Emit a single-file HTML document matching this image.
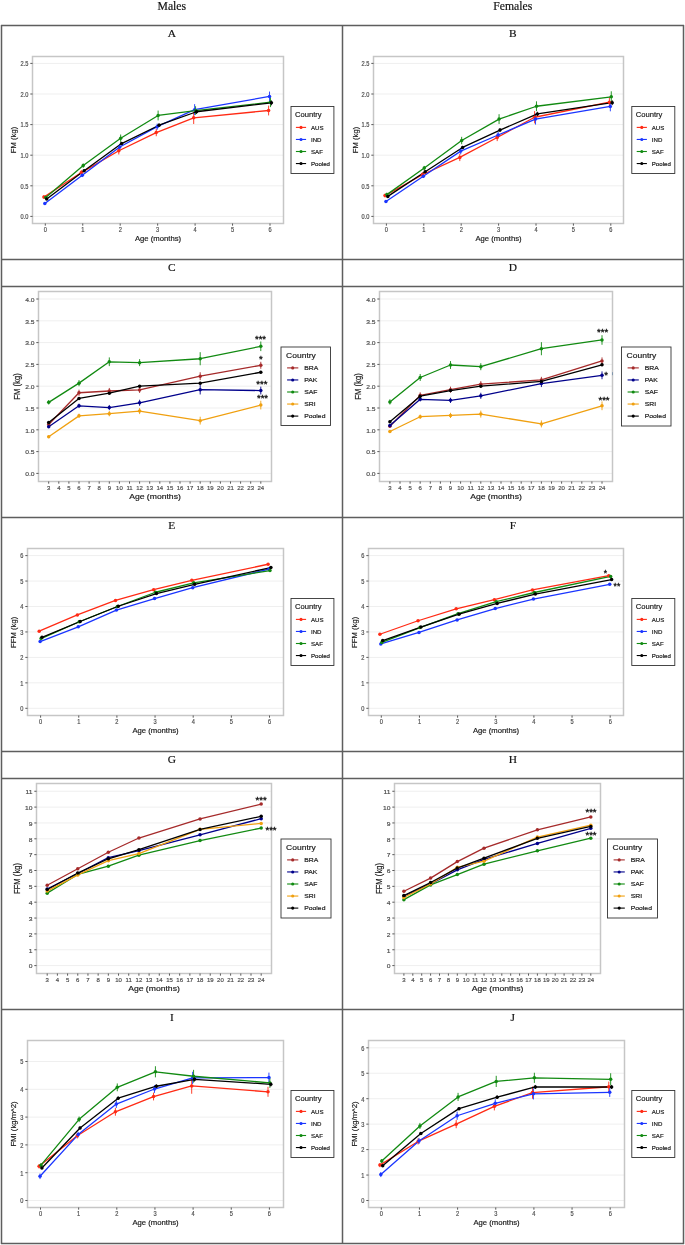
<!DOCTYPE html>
<html><head><meta charset="utf-8"><title>Figure</title>
<style>
html,body{margin:0;padding:0;background:#fff;}
body{width:685px;height:1245px;overflow:hidden;font-family:"Liberation Sans",sans-serif;}
svg{display:block;will-change:transform;}
</style></head>
<body>
<svg width="685" height="1245" viewBox="0 0 685 1245">
<g>
<rect x="0" y="0" width="685" height="1245" fill="#fff"/>
<line x1="32.5" y1="216.4" x2="283.5" y2="216.4" stroke="#efefef" stroke-width="1"/>
<line x1="32.5" y1="185.8" x2="283.5" y2="185.8" stroke="#efefef" stroke-width="1"/>
<line x1="32.5" y1="155.2" x2="283.5" y2="155.2" stroke="#efefef" stroke-width="1"/>
<line x1="32.5" y1="124.6" x2="283.5" y2="124.6" stroke="#efefef" stroke-width="1"/>
<line x1="32.5" y1="94" x2="283.5" y2="94" stroke="#efefef" stroke-width="1"/>
<line x1="32.5" y1="63.4" x2="283.5" y2="63.4" stroke="#efefef" stroke-width="1"/>
<line x1="43.9" y1="198.96" x2="43.9" y2="195.29" stroke="#ff2a14" stroke-width="0.9"/>
<line x1="81.35" y1="175.03" x2="81.35" y2="170.13" stroke="#ff2a14" stroke-width="0.9"/>
<line x1="118.8" y1="154.47" x2="118.8" y2="147.12" stroke="#ff2a14" stroke-width="0.9"/>
<line x1="156.25" y1="136.23" x2="156.25" y2="128.88" stroke="#ff2a14" stroke-width="0.9"/>
<line x1="193.7" y1="123.99" x2="193.7" y2="111.75" stroke="#ff2a14" stroke-width="0.9"/>
<line x1="268.6" y1="115.42" x2="268.6" y2="105.63" stroke="#ff2a14" stroke-width="0.9"/>
<line x1="44.83" y1="204.77" x2="44.83" y2="202.32" stroke="#1a35ff" stroke-width="0.9"/>
<line x1="82.28" y1="177.05" x2="82.28" y2="173.38" stroke="#1a35ff" stroke-width="0.9"/>
<line x1="119.73" y1="150.06" x2="119.73" y2="143.94" stroke="#1a35ff" stroke-width="0.9"/>
<line x1="157.18" y1="129.74" x2="157.18" y2="123.62" stroke="#1a35ff" stroke-width="0.9"/>
<line x1="194.63" y1="115.18" x2="194.63" y2="104.16" stroke="#1a35ff" stroke-width="0.9"/>
<line x1="269.53" y1="101.34" x2="269.53" y2="91.55" stroke="#1a35ff" stroke-width="0.9"/>
<line x1="45.77" y1="199.26" x2="45.77" y2="195.59" stroke="#118a11" stroke-width="0.9"/>
<line x1="83.22" y1="167.75" x2="83.22" y2="163.46" stroke="#118a11" stroke-width="0.9"/>
<line x1="120.67" y1="141.86" x2="120.67" y2="134.51" stroke="#118a11" stroke-width="0.9"/>
<line x1="158.12" y1="120.38" x2="158.12" y2="110.59" stroke="#118a11" stroke-width="0.9"/>
<line x1="195.57" y1="114.81" x2="195.57" y2="106.24" stroke="#118a11" stroke-width="0.9"/>
<line x1="270.47" y1="107.1" x2="270.47" y2="97.3" stroke="#118a11" stroke-width="0.9"/>
<line x1="46.7" y1="199.94" x2="46.7" y2="198.1" stroke="#000000" stroke-width="0.9"/>
<line x1="84.15" y1="172.03" x2="84.15" y2="169.58" stroke="#000000" stroke-width="0.9"/>
<line x1="121.6" y1="145.1" x2="121.6" y2="142.04" stroke="#000000" stroke-width="0.9"/>
<line x1="159.05" y1="127.05" x2="159.05" y2="123.38" stroke="#000000" stroke-width="0.9"/>
<line x1="196.5" y1="113.89" x2="196.5" y2="109.61" stroke="#000000" stroke-width="0.9"/>
<line x1="271.4" y1="105.32" x2="271.4" y2="100.43" stroke="#000000" stroke-width="0.9"/>
<polyline points="43.9,197.12 81.35,172.58 118.8,150.79 156.25,132.56 193.7,117.87 268.6,110.52" fill="none" stroke="#ff2a14" stroke-width="1.3" stroke-linejoin="round"/>
<polyline points="44.83,203.55 82.28,175.21 119.73,147 157.18,126.68 194.63,109.67 269.53,96.45" fill="none" stroke="#1a35ff" stroke-width="1.3" stroke-linejoin="round"/>
<polyline points="45.77,197.43 83.22,165.6 120.67,138.19 158.12,115.48 195.57,110.52 270.47,102.2" fill="none" stroke="#118a11" stroke-width="1.3" stroke-linejoin="round"/>
<polyline points="46.7,199.02 84.15,170.81 121.6,143.57 159.05,125.21 196.5,111.75 271.4,102.87" fill="none" stroke="#000000" stroke-width="1.3" stroke-linejoin="round"/>
<circle cx="43.9" cy="197.12" r="1.75" fill="#ff2a14"/>
<circle cx="81.35" cy="172.58" r="1.75" fill="#ff2a14"/>
<circle cx="118.8" cy="150.79" r="1.75" fill="#ff2a14"/>
<circle cx="156.25" cy="132.56" r="1.75" fill="#ff2a14"/>
<circle cx="193.7" cy="117.87" r="1.75" fill="#ff2a14"/>
<circle cx="268.6" cy="110.52" r="1.75" fill="#ff2a14"/>
<circle cx="44.83" cy="203.55" r="1.75" fill="#1a35ff"/>
<circle cx="82.28" cy="175.21" r="1.75" fill="#1a35ff"/>
<circle cx="119.73" cy="147" r="1.75" fill="#1a35ff"/>
<circle cx="157.18" cy="126.68" r="1.75" fill="#1a35ff"/>
<circle cx="194.63" cy="109.67" r="1.75" fill="#1a35ff"/>
<circle cx="269.53" cy="96.45" r="1.75" fill="#1a35ff"/>
<circle cx="45.77" cy="197.43" r="1.75" fill="#118a11"/>
<circle cx="83.22" cy="165.6" r="1.75" fill="#118a11"/>
<circle cx="120.67" cy="138.19" r="1.75" fill="#118a11"/>
<circle cx="158.12" cy="115.48" r="1.75" fill="#118a11"/>
<circle cx="195.57" cy="110.52" r="1.75" fill="#118a11"/>
<circle cx="270.47" cy="102.2" r="1.75" fill="#118a11"/>
<circle cx="46.7" cy="199.02" r="1.75" fill="#000000"/>
<circle cx="84.15" cy="170.81" r="1.75" fill="#000000"/>
<circle cx="121.6" cy="143.57" r="1.75" fill="#000000"/>
<circle cx="159.05" cy="125.21" r="1.75" fill="#000000"/>
<circle cx="196.5" cy="111.75" r="1.75" fill="#000000"/>
<circle cx="271.4" cy="102.87" r="1.75" fill="#000000"/>
<rect x="32.5" y="56.5" width="251" height="167" fill="none" stroke="#c6c6c6" stroke-width="1.5"/>
<line x1="30.3" y1="216.4" x2="32.5" y2="216.4" stroke="#333" stroke-width="0.8"/>
<text transform="translate(28.5,219.2) scale(0.86,1)" font-size="6.6" text-anchor="end" fill="#4d4d4d" font-family='"Liberation Sans", sans-serif' stroke="#4d4d4d" stroke-width="0.18">0.0</text>
<line x1="30.3" y1="185.8" x2="32.5" y2="185.8" stroke="#333" stroke-width="0.8"/>
<text transform="translate(28.5,188.6) scale(0.86,1)" font-size="6.6" text-anchor="end" fill="#4d4d4d" font-family='"Liberation Sans", sans-serif' stroke="#4d4d4d" stroke-width="0.18">0.5</text>
<line x1="30.3" y1="155.2" x2="32.5" y2="155.2" stroke="#333" stroke-width="0.8"/>
<text transform="translate(28.5,158) scale(0.86,1)" font-size="6.6" text-anchor="end" fill="#4d4d4d" font-family='"Liberation Sans", sans-serif' stroke="#4d4d4d" stroke-width="0.18">1.0</text>
<line x1="30.3" y1="124.6" x2="32.5" y2="124.6" stroke="#333" stroke-width="0.8"/>
<text transform="translate(28.5,127.4) scale(0.86,1)" font-size="6.6" text-anchor="end" fill="#4d4d4d" font-family='"Liberation Sans", sans-serif' stroke="#4d4d4d" stroke-width="0.18">1.5</text>
<line x1="30.3" y1="94" x2="32.5" y2="94" stroke="#333" stroke-width="0.8"/>
<text transform="translate(28.5,96.8) scale(0.86,1)" font-size="6.6" text-anchor="end" fill="#4d4d4d" font-family='"Liberation Sans", sans-serif' stroke="#4d4d4d" stroke-width="0.18">2.0</text>
<line x1="30.3" y1="63.4" x2="32.5" y2="63.4" stroke="#333" stroke-width="0.8"/>
<text transform="translate(28.5,66.2) scale(0.86,1)" font-size="6.6" text-anchor="end" fill="#4d4d4d" font-family='"Liberation Sans", sans-serif' stroke="#4d4d4d" stroke-width="0.18">2.5</text>
<line x1="45.3" y1="223.5" x2="45.3" y2="225.7" stroke="#333" stroke-width="0.8"/>
<text transform="translate(45.3,231.8) scale(0.86,1)" font-size="6.6" text-anchor="middle" fill="#4d4d4d" font-family='"Liberation Sans", sans-serif' stroke="#4d4d4d" stroke-width="0.18">0</text>
<line x1="82.75" y1="223.5" x2="82.75" y2="225.7" stroke="#333" stroke-width="0.8"/>
<text transform="translate(82.75,231.8) scale(0.86,1)" font-size="6.6" text-anchor="middle" fill="#4d4d4d" font-family='"Liberation Sans", sans-serif' stroke="#4d4d4d" stroke-width="0.18">1</text>
<line x1="120.2" y1="223.5" x2="120.2" y2="225.7" stroke="#333" stroke-width="0.8"/>
<text transform="translate(120.2,231.8) scale(0.86,1)" font-size="6.6" text-anchor="middle" fill="#4d4d4d" font-family='"Liberation Sans", sans-serif' stroke="#4d4d4d" stroke-width="0.18">2</text>
<line x1="157.65" y1="223.5" x2="157.65" y2="225.7" stroke="#333" stroke-width="0.8"/>
<text transform="translate(157.65,231.8) scale(0.86,1)" font-size="6.6" text-anchor="middle" fill="#4d4d4d" font-family='"Liberation Sans", sans-serif' stroke="#4d4d4d" stroke-width="0.18">3</text>
<line x1="195.1" y1="223.5" x2="195.1" y2="225.7" stroke="#333" stroke-width="0.8"/>
<text transform="translate(195.1,231.8) scale(0.86,1)" font-size="6.6" text-anchor="middle" fill="#4d4d4d" font-family='"Liberation Sans", sans-serif' stroke="#4d4d4d" stroke-width="0.18">4</text>
<line x1="232.55" y1="223.5" x2="232.55" y2="225.7" stroke="#333" stroke-width="0.8"/>
<text transform="translate(232.55,231.8) scale(0.86,1)" font-size="6.6" text-anchor="middle" fill="#4d4d4d" font-family='"Liberation Sans", sans-serif' stroke="#4d4d4d" stroke-width="0.18">5</text>
<line x1="270" y1="223.5" x2="270" y2="225.7" stroke="#333" stroke-width="0.8"/>
<text transform="translate(270,231.8) scale(0.86,1)" font-size="6.6" text-anchor="middle" fill="#4d4d4d" font-family='"Liberation Sans", sans-serif' stroke="#4d4d4d" stroke-width="0.18">6</text>
<text transform="translate(158,240.6)" font-size="7.7" text-anchor="middle" fill="#1a1a1a" font-family='"Liberation Sans", sans-serif' stroke="#1a1a1a" stroke-width="0.18">Age (months)</text>
<text transform="translate(16.4,140) rotate(-90)" font-size="7.7" text-anchor="middle" fill="#1a1a1a" font-family='"Liberation Sans", sans-serif' stroke="#1a1a1a" stroke-width="0.18">FM (kg)</text>
<rect x="291" y="106.5" width="42.9" height="67" fill="#fff" stroke="#333" stroke-width="0.9"/>
<text transform="translate(295,117.2)" font-size="7.6" text-anchor="start" fill="#1a1a1a" font-family='"Liberation Sans", sans-serif' stroke="#1a1a1a" stroke-width="0.18">Country</text>
<line x1="295.9" y1="127.4" x2="306.1" y2="127.4" stroke="#ff2a14" stroke-width="1.1"/>
<circle cx="301" cy="127.4" r="1.55" fill="#ff2a14"/>
<text transform="translate(311,129.55)" font-size="6.1" text-anchor="start" fill="#1a1a1a" font-family='"Liberation Sans", sans-serif' stroke="#1a1a1a" stroke-width="0.18">AUS</text>
<line x1="295.9" y1="139.45" x2="306.1" y2="139.45" stroke="#1a35ff" stroke-width="1.1"/>
<circle cx="301" cy="139.45" r="1.55" fill="#1a35ff"/>
<text transform="translate(311,141.6)" font-size="6.1" text-anchor="start" fill="#1a1a1a" font-family='"Liberation Sans", sans-serif' stroke="#1a1a1a" stroke-width="0.18">IND</text>
<line x1="295.9" y1="151.5" x2="306.1" y2="151.5" stroke="#118a11" stroke-width="1.1"/>
<circle cx="301" cy="151.5" r="1.55" fill="#118a11"/>
<text transform="translate(311,153.65)" font-size="6.1" text-anchor="start" fill="#1a1a1a" font-family='"Liberation Sans", sans-serif' stroke="#1a1a1a" stroke-width="0.18">SAF</text>
<line x1="295.9" y1="163.55" x2="306.1" y2="163.55" stroke="#000000" stroke-width="1.1"/>
<circle cx="301" cy="163.55" r="1.55" fill="#000000"/>
<text transform="translate(311,165.7)" font-size="6.1" text-anchor="start" fill="#1a1a1a" font-family='"Liberation Sans", sans-serif' stroke="#1a1a1a" stroke-width="0.18">Pooled</text>
<line x1="373.5" y1="216.4" x2="623.5" y2="216.4" stroke="#efefef" stroke-width="1"/>
<line x1="373.5" y1="185.8" x2="623.5" y2="185.8" stroke="#efefef" stroke-width="1"/>
<line x1="373.5" y1="155.2" x2="623.5" y2="155.2" stroke="#efefef" stroke-width="1"/>
<line x1="373.5" y1="124.6" x2="623.5" y2="124.6" stroke="#efefef" stroke-width="1"/>
<line x1="373.5" y1="94" x2="623.5" y2="94" stroke="#efefef" stroke-width="1"/>
<line x1="373.5" y1="63.4" x2="623.5" y2="63.4" stroke="#efefef" stroke-width="1"/>
<line x1="385" y1="197.43" x2="385" y2="193.76" stroke="#ff2a14" stroke-width="0.9"/>
<line x1="422.4" y1="177.23" x2="422.4" y2="172.34" stroke="#ff2a14" stroke-width="0.9"/>
<line x1="459.8" y1="161.08" x2="459.8" y2="153.73" stroke="#ff2a14" stroke-width="0.9"/>
<line x1="497.2" y1="141.12" x2="497.2" y2="133.78" stroke="#ff2a14" stroke-width="0.9"/>
<line x1="534.6" y1="123.38" x2="534.6" y2="111.14" stroke="#ff2a14" stroke-width="0.9"/>
<line x1="609.4" y1="107.1" x2="609.4" y2="97.3" stroke="#ff2a14" stroke-width="0.9"/>
<line x1="385.93" y1="202.75" x2="385.93" y2="200.3" stroke="#1a35ff" stroke-width="0.9"/>
<line x1="423.33" y1="178.03" x2="423.33" y2="174.36" stroke="#1a35ff" stroke-width="0.9"/>
<line x1="460.73" y1="154.16" x2="460.73" y2="148.04" stroke="#1a35ff" stroke-width="0.9"/>
<line x1="498.13" y1="138.06" x2="498.13" y2="131.94" stroke="#1a35ff" stroke-width="0.9"/>
<line x1="535.53" y1="124.6" x2="535.53" y2="113.58" stroke="#1a35ff" stroke-width="0.9"/>
<line x1="610.33" y1="111.32" x2="610.33" y2="101.53" stroke="#1a35ff" stroke-width="0.9"/>
<line x1="386.87" y1="196.45" x2="386.87" y2="192.78" stroke="#118a11" stroke-width="0.9"/>
<line x1="424.27" y1="170.19" x2="424.27" y2="165.91" stroke="#118a11" stroke-width="0.9"/>
<line x1="461.67" y1="144.18" x2="461.67" y2="136.84" stroke="#118a11" stroke-width="0.9"/>
<line x1="499.07" y1="123.99" x2="499.07" y2="114.2" stroke="#118a11" stroke-width="0.9"/>
<line x1="536.47" y1="111.14" x2="536.47" y2="101.34" stroke="#118a11" stroke-width="0.9"/>
<line x1="611.27" y1="102.32" x2="611.27" y2="91.31" stroke="#118a11" stroke-width="0.9"/>
<line x1="387.8" y1="197.31" x2="387.8" y2="195.47" stroke="#000000" stroke-width="0.9"/>
<line x1="425.2" y1="172.95" x2="425.2" y2="170.5" stroke="#000000" stroke-width="0.9"/>
<line x1="462.6" y1="148.96" x2="462.6" y2="145.9" stroke="#000000" stroke-width="0.9"/>
<line x1="500" y1="131.94" x2="500" y2="128.27" stroke="#000000" stroke-width="0.9"/>
<line x1="537.4" y1="116.03" x2="537.4" y2="111.75" stroke="#000000" stroke-width="0.9"/>
<line x1="612.2" y1="105.14" x2="612.2" y2="100.24" stroke="#000000" stroke-width="0.9"/>
<polyline points="385,195.59 422.4,174.78 459.8,157.4 497.2,137.45 534.6,117.26 609.4,102.2" fill="none" stroke="#ff2a14" stroke-width="1.3" stroke-linejoin="round"/>
<polyline points="385.93,201.53 423.33,176.19 460.73,151.1 498.13,135 535.53,119.09 610.33,106.42" fill="none" stroke="#1a35ff" stroke-width="1.3" stroke-linejoin="round"/>
<polyline points="386.87,194.61 424.27,168.05 461.67,140.51 499.07,119.09 536.47,106.24 611.27,96.82" fill="none" stroke="#118a11" stroke-width="1.3" stroke-linejoin="round"/>
<polyline points="387.8,196.39 425.2,171.72 462.6,147.43 500,130.11 537.4,113.89 612.2,102.69" fill="none" stroke="#000000" stroke-width="1.3" stroke-linejoin="round"/>
<circle cx="385" cy="195.59" r="1.75" fill="#ff2a14"/>
<circle cx="422.4" cy="174.78" r="1.75" fill="#ff2a14"/>
<circle cx="459.8" cy="157.4" r="1.75" fill="#ff2a14"/>
<circle cx="497.2" cy="137.45" r="1.75" fill="#ff2a14"/>
<circle cx="534.6" cy="117.26" r="1.75" fill="#ff2a14"/>
<circle cx="609.4" cy="102.2" r="1.75" fill="#ff2a14"/>
<circle cx="385.93" cy="201.53" r="1.75" fill="#1a35ff"/>
<circle cx="423.33" cy="176.19" r="1.75" fill="#1a35ff"/>
<circle cx="460.73" cy="151.1" r="1.75" fill="#1a35ff"/>
<circle cx="498.13" cy="135" r="1.75" fill="#1a35ff"/>
<circle cx="535.53" cy="119.09" r="1.75" fill="#1a35ff"/>
<circle cx="610.33" cy="106.42" r="1.75" fill="#1a35ff"/>
<circle cx="386.87" cy="194.61" r="1.75" fill="#118a11"/>
<circle cx="424.27" cy="168.05" r="1.75" fill="#118a11"/>
<circle cx="461.67" cy="140.51" r="1.75" fill="#118a11"/>
<circle cx="499.07" cy="119.09" r="1.75" fill="#118a11"/>
<circle cx="536.47" cy="106.24" r="1.75" fill="#118a11"/>
<circle cx="611.27" cy="96.82" r="1.75" fill="#118a11"/>
<circle cx="387.8" cy="196.39" r="1.75" fill="#000000"/>
<circle cx="425.2" cy="171.72" r="1.75" fill="#000000"/>
<circle cx="462.6" cy="147.43" r="1.75" fill="#000000"/>
<circle cx="500" cy="130.11" r="1.75" fill="#000000"/>
<circle cx="537.4" cy="113.89" r="1.75" fill="#000000"/>
<circle cx="612.2" cy="102.69" r="1.75" fill="#000000"/>
<rect x="373.5" y="56.5" width="250" height="167" fill="none" stroke="#c6c6c6" stroke-width="1.5"/>
<line x1="371.3" y1="216.4" x2="373.5" y2="216.4" stroke="#333" stroke-width="0.8"/>
<text transform="translate(369.5,219.2) scale(0.86,1)" font-size="6.6" text-anchor="end" fill="#4d4d4d" font-family='"Liberation Sans", sans-serif' stroke="#4d4d4d" stroke-width="0.18">0.0</text>
<line x1="371.3" y1="185.8" x2="373.5" y2="185.8" stroke="#333" stroke-width="0.8"/>
<text transform="translate(369.5,188.6) scale(0.86,1)" font-size="6.6" text-anchor="end" fill="#4d4d4d" font-family='"Liberation Sans", sans-serif' stroke="#4d4d4d" stroke-width="0.18">0.5</text>
<line x1="371.3" y1="155.2" x2="373.5" y2="155.2" stroke="#333" stroke-width="0.8"/>
<text transform="translate(369.5,158) scale(0.86,1)" font-size="6.6" text-anchor="end" fill="#4d4d4d" font-family='"Liberation Sans", sans-serif' stroke="#4d4d4d" stroke-width="0.18">1.0</text>
<line x1="371.3" y1="124.6" x2="373.5" y2="124.6" stroke="#333" stroke-width="0.8"/>
<text transform="translate(369.5,127.4) scale(0.86,1)" font-size="6.6" text-anchor="end" fill="#4d4d4d" font-family='"Liberation Sans", sans-serif' stroke="#4d4d4d" stroke-width="0.18">1.5</text>
<line x1="371.3" y1="94" x2="373.5" y2="94" stroke="#333" stroke-width="0.8"/>
<text transform="translate(369.5,96.8) scale(0.86,1)" font-size="6.6" text-anchor="end" fill="#4d4d4d" font-family='"Liberation Sans", sans-serif' stroke="#4d4d4d" stroke-width="0.18">2.0</text>
<line x1="371.3" y1="63.4" x2="373.5" y2="63.4" stroke="#333" stroke-width="0.8"/>
<text transform="translate(369.5,66.2) scale(0.86,1)" font-size="6.6" text-anchor="end" fill="#4d4d4d" font-family='"Liberation Sans", sans-serif' stroke="#4d4d4d" stroke-width="0.18">2.5</text>
<line x1="386.4" y1="223.5" x2="386.4" y2="225.7" stroke="#333" stroke-width="0.8"/>
<text transform="translate(386.4,231.8) scale(0.86,1)" font-size="6.6" text-anchor="middle" fill="#4d4d4d" font-family='"Liberation Sans", sans-serif' stroke="#4d4d4d" stroke-width="0.18">0</text>
<line x1="423.8" y1="223.5" x2="423.8" y2="225.7" stroke="#333" stroke-width="0.8"/>
<text transform="translate(423.8,231.8) scale(0.86,1)" font-size="6.6" text-anchor="middle" fill="#4d4d4d" font-family='"Liberation Sans", sans-serif' stroke="#4d4d4d" stroke-width="0.18">1</text>
<line x1="461.2" y1="223.5" x2="461.2" y2="225.7" stroke="#333" stroke-width="0.8"/>
<text transform="translate(461.2,231.8) scale(0.86,1)" font-size="6.6" text-anchor="middle" fill="#4d4d4d" font-family='"Liberation Sans", sans-serif' stroke="#4d4d4d" stroke-width="0.18">2</text>
<line x1="498.6" y1="223.5" x2="498.6" y2="225.7" stroke="#333" stroke-width="0.8"/>
<text transform="translate(498.6,231.8) scale(0.86,1)" font-size="6.6" text-anchor="middle" fill="#4d4d4d" font-family='"Liberation Sans", sans-serif' stroke="#4d4d4d" stroke-width="0.18">3</text>
<line x1="536" y1="223.5" x2="536" y2="225.7" stroke="#333" stroke-width="0.8"/>
<text transform="translate(536,231.8) scale(0.86,1)" font-size="6.6" text-anchor="middle" fill="#4d4d4d" font-family='"Liberation Sans", sans-serif' stroke="#4d4d4d" stroke-width="0.18">4</text>
<line x1="573.4" y1="223.5" x2="573.4" y2="225.7" stroke="#333" stroke-width="0.8"/>
<text transform="translate(573.4,231.8) scale(0.86,1)" font-size="6.6" text-anchor="middle" fill="#4d4d4d" font-family='"Liberation Sans", sans-serif' stroke="#4d4d4d" stroke-width="0.18">5</text>
<line x1="610.8" y1="223.5" x2="610.8" y2="225.7" stroke="#333" stroke-width="0.8"/>
<text transform="translate(610.8,231.8) scale(0.86,1)" font-size="6.6" text-anchor="middle" fill="#4d4d4d" font-family='"Liberation Sans", sans-serif' stroke="#4d4d4d" stroke-width="0.18">6</text>
<text transform="translate(498.5,240.6)" font-size="7.7" text-anchor="middle" fill="#1a1a1a" font-family='"Liberation Sans", sans-serif' stroke="#1a1a1a" stroke-width="0.18">Age (months)</text>
<text transform="translate(357.6,140) rotate(-90)" font-size="7.7" text-anchor="middle" fill="#1a1a1a" font-family='"Liberation Sans", sans-serif' stroke="#1a1a1a" stroke-width="0.18">FM (kg)</text>
<rect x="631.8" y="106.5" width="43" height="67" fill="#fff" stroke="#333" stroke-width="0.9"/>
<text transform="translate(635.8,117.2)" font-size="7.6" text-anchor="start" fill="#1a1a1a" font-family='"Liberation Sans", sans-serif' stroke="#1a1a1a" stroke-width="0.18">Country</text>
<line x1="636.7" y1="127.4" x2="646.9" y2="127.4" stroke="#ff2a14" stroke-width="1.1"/>
<circle cx="641.8" cy="127.4" r="1.55" fill="#ff2a14"/>
<text transform="translate(651.8,129.55)" font-size="6.1" text-anchor="start" fill="#1a1a1a" font-family='"Liberation Sans", sans-serif' stroke="#1a1a1a" stroke-width="0.18">AUS</text>
<line x1="636.7" y1="139.45" x2="646.9" y2="139.45" stroke="#1a35ff" stroke-width="1.1"/>
<circle cx="641.8" cy="139.45" r="1.55" fill="#1a35ff"/>
<text transform="translate(651.8,141.6)" font-size="6.1" text-anchor="start" fill="#1a1a1a" font-family='"Liberation Sans", sans-serif' stroke="#1a1a1a" stroke-width="0.18">IND</text>
<line x1="636.7" y1="151.5" x2="646.9" y2="151.5" stroke="#118a11" stroke-width="1.1"/>
<circle cx="641.8" cy="151.5" r="1.55" fill="#118a11"/>
<text transform="translate(651.8,153.65)" font-size="6.1" text-anchor="start" fill="#1a1a1a" font-family='"Liberation Sans", sans-serif' stroke="#1a1a1a" stroke-width="0.18">SAF</text>
<line x1="636.7" y1="163.55" x2="646.9" y2="163.55" stroke="#000000" stroke-width="1.1"/>
<circle cx="641.8" cy="163.55" r="1.55" fill="#000000"/>
<text transform="translate(651.8,165.7)" font-size="6.1" text-anchor="start" fill="#1a1a1a" font-family='"Liberation Sans", sans-serif' stroke="#1a1a1a" stroke-width="0.18">Pooled</text>
<line x1="38.5" y1="473.4" x2="271.5" y2="473.4" stroke="#efefef" stroke-width="1"/>
<line x1="38.5" y1="451.6" x2="271.5" y2="451.6" stroke="#efefef" stroke-width="1"/>
<line x1="38.5" y1="429.8" x2="271.5" y2="429.8" stroke="#efefef" stroke-width="1"/>
<line x1="38.5" y1="408" x2="271.5" y2="408" stroke="#efefef" stroke-width="1"/>
<line x1="38.5" y1="386.2" x2="271.5" y2="386.2" stroke="#efefef" stroke-width="1"/>
<line x1="38.5" y1="364.4" x2="271.5" y2="364.4" stroke="#efefef" stroke-width="1"/>
<line x1="38.5" y1="342.6" x2="271.5" y2="342.6" stroke="#efefef" stroke-width="1"/>
<line x1="38.5" y1="320.8" x2="271.5" y2="320.8" stroke="#efefef" stroke-width="1"/>
<line x1="38.5" y1="299" x2="271.5" y2="299" stroke="#efefef" stroke-width="1"/>
<line x1="48.7" y1="425.88" x2="48.7" y2="423.26" stroke="#a52a2a" stroke-width="0.9"/>
<line x1="79" y1="395.79" x2="79" y2="389.69" stroke="#a52a2a" stroke-width="0.9"/>
<line x1="109.3" y1="394.05" x2="109.3" y2="387.94" stroke="#a52a2a" stroke-width="0.9"/>
<line x1="139.6" y1="392.96" x2="139.6" y2="386.85" stroke="#a52a2a" stroke-width="0.9"/>
<line x1="200.2" y1="380.1" x2="200.2" y2="372.25" stroke="#a52a2a" stroke-width="0.9"/>
<line x1="260.8" y1="368.76" x2="260.8" y2="361.78" stroke="#a52a2a" stroke-width="0.9"/>
<line x1="48.7" y1="428.06" x2="48.7" y2="425.44" stroke="#00008b" stroke-width="0.9"/>
<line x1="79" y1="408" x2="79" y2="403.64" stroke="#00008b" stroke-width="0.9"/>
<line x1="109.3" y1="410.18" x2="109.3" y2="404.95" stroke="#00008b" stroke-width="0.9"/>
<line x1="139.6" y1="405.82" x2="139.6" y2="399.72" stroke="#00008b" stroke-width="0.9"/>
<line x1="200.2" y1="394.48" x2="200.2" y2="384.89" stroke="#00008b" stroke-width="0.9"/>
<line x1="260.8" y1="394.48" x2="260.8" y2="386.64" stroke="#00008b" stroke-width="0.9"/>
<line x1="48.7" y1="404.51" x2="48.7" y2="400.15" stroke="#118a11" stroke-width="0.9"/>
<line x1="79" y1="386.2" x2="79" y2="380.1" stroke="#118a11" stroke-width="0.9"/>
<line x1="109.3" y1="366.14" x2="109.3" y2="357.42" stroke="#118a11" stroke-width="0.9"/>
<line x1="139.6" y1="366.14" x2="139.6" y2="359.17" stroke="#118a11" stroke-width="0.9"/>
<line x1="200.2" y1="365.27" x2="200.2" y2="352.19" stroke="#118a11" stroke-width="0.9"/>
<line x1="260.8" y1="351.1" x2="260.8" y2="341.51" stroke="#118a11" stroke-width="0.9"/>
<line x1="48.7" y1="438.08" x2="48.7" y2="435.47" stroke="#f0a010" stroke-width="0.9"/>
<line x1="79" y1="418.03" x2="79" y2="413.67" stroke="#f0a010" stroke-width="0.9"/>
<line x1="109.3" y1="416.28" x2="109.3" y2="411.05" stroke="#f0a010" stroke-width="0.9"/>
<line x1="139.6" y1="414.1" x2="139.6" y2="408" stroke="#f0a010" stroke-width="0.9"/>
<line x1="200.2" y1="424.57" x2="200.2" y2="416.72" stroke="#f0a010" stroke-width="0.9"/>
<line x1="260.8" y1="409.44" x2="260.8" y2="400.72" stroke="#f0a010" stroke-width="0.9"/>
<line x1="48.7" y1="423.26" x2="48.7" y2="421.52" stroke="#000000" stroke-width="0.9"/>
<line x1="79" y1="399.28" x2="79" y2="397.54" stroke="#000000" stroke-width="0.9"/>
<line x1="109.3" y1="394.05" x2="109.3" y2="392.3" stroke="#000000" stroke-width="0.9"/>
<line x1="139.6" y1="387.07" x2="139.6" y2="385.33" stroke="#000000" stroke-width="0.9"/>
<line x1="200.2" y1="384.46" x2="200.2" y2="381.84" stroke="#000000" stroke-width="0.9"/>
<line x1="260.8" y1="373.56" x2="260.8" y2="370.94" stroke="#000000" stroke-width="0.9"/>
<polyline points="48.7,424.57 79,392.74 109.3,391 139.6,389.91 200.2,376.17 260.8,365.27" fill="none" stroke="#a52a2a" stroke-width="1.3" stroke-linejoin="round"/>
<polyline points="48.7,426.75 79,405.82 109.3,407.56 139.6,402.77 200.2,389.69 260.8,390.56" fill="none" stroke="#00008b" stroke-width="1.3" stroke-linejoin="round"/>
<polyline points="48.7,402.33 79,383.15 109.3,361.78 139.6,362.66 200.2,358.73 260.8,346.31" fill="none" stroke="#118a11" stroke-width="1.3" stroke-linejoin="round"/>
<polyline points="48.7,436.78 79,415.85 109.3,413.67 139.6,411.05 200.2,420.64 260.8,405.08" fill="none" stroke="#f0a010" stroke-width="1.3" stroke-linejoin="round"/>
<polyline points="48.7,422.39 79,398.41 109.3,393.18 139.6,386.2 200.2,383.15 260.8,372.25" fill="none" stroke="#000000" stroke-width="1.3" stroke-linejoin="round"/>
<circle cx="48.7" cy="424.57" r="1.75" fill="#a52a2a"/>
<circle cx="79" cy="392.74" r="1.75" fill="#a52a2a"/>
<circle cx="109.3" cy="391" r="1.75" fill="#a52a2a"/>
<circle cx="139.6" cy="389.91" r="1.75" fill="#a52a2a"/>
<circle cx="200.2" cy="376.17" r="1.75" fill="#a52a2a"/>
<circle cx="260.8" cy="365.27" r="1.75" fill="#a52a2a"/>
<circle cx="48.7" cy="426.75" r="1.75" fill="#00008b"/>
<circle cx="79" cy="405.82" r="1.75" fill="#00008b"/>
<circle cx="109.3" cy="407.56" r="1.75" fill="#00008b"/>
<circle cx="139.6" cy="402.77" r="1.75" fill="#00008b"/>
<circle cx="200.2" cy="389.69" r="1.75" fill="#00008b"/>
<circle cx="260.8" cy="390.56" r="1.75" fill="#00008b"/>
<circle cx="48.7" cy="402.33" r="1.75" fill="#118a11"/>
<circle cx="79" cy="383.15" r="1.75" fill="#118a11"/>
<circle cx="109.3" cy="361.78" r="1.75" fill="#118a11"/>
<circle cx="139.6" cy="362.66" r="1.75" fill="#118a11"/>
<circle cx="200.2" cy="358.73" r="1.75" fill="#118a11"/>
<circle cx="260.8" cy="346.31" r="1.75" fill="#118a11"/>
<circle cx="48.7" cy="436.78" r="1.75" fill="#f0a010"/>
<circle cx="79" cy="415.85" r="1.75" fill="#f0a010"/>
<circle cx="109.3" cy="413.67" r="1.75" fill="#f0a010"/>
<circle cx="139.6" cy="411.05" r="1.75" fill="#f0a010"/>
<circle cx="200.2" cy="420.64" r="1.75" fill="#f0a010"/>
<circle cx="260.8" cy="405.08" r="1.75" fill="#f0a010"/>
<circle cx="48.7" cy="422.39" r="1.75" fill="#000000"/>
<circle cx="79" cy="398.41" r="1.75" fill="#000000"/>
<circle cx="109.3" cy="393.18" r="1.75" fill="#000000"/>
<circle cx="139.6" cy="386.2" r="1.75" fill="#000000"/>
<circle cx="200.2" cy="383.15" r="1.75" fill="#000000"/>
<circle cx="260.8" cy="372.25" r="1.75" fill="#000000"/>
<rect x="38.5" y="291.5" width="233" height="190" fill="none" stroke="#c6c6c6" stroke-width="1.5"/>
<line x1="36.3" y1="473.4" x2="38.5" y2="473.4" stroke="#333" stroke-width="0.8"/>
<text transform="translate(34.5,476.2) scale(1.1,1)" font-size="6.1" text-anchor="end" fill="#4d4d4d" font-family='"Liberation Sans", sans-serif' stroke="#4d4d4d" stroke-width="0.18">0.0</text>
<line x1="36.3" y1="451.6" x2="38.5" y2="451.6" stroke="#333" stroke-width="0.8"/>
<text transform="translate(34.5,454.4) scale(1.1,1)" font-size="6.1" text-anchor="end" fill="#4d4d4d" font-family='"Liberation Sans", sans-serif' stroke="#4d4d4d" stroke-width="0.18">0.5</text>
<line x1="36.3" y1="429.8" x2="38.5" y2="429.8" stroke="#333" stroke-width="0.8"/>
<text transform="translate(34.5,432.6) scale(1.1,1)" font-size="6.1" text-anchor="end" fill="#4d4d4d" font-family='"Liberation Sans", sans-serif' stroke="#4d4d4d" stroke-width="0.18">1.0</text>
<line x1="36.3" y1="408" x2="38.5" y2="408" stroke="#333" stroke-width="0.8"/>
<text transform="translate(34.5,410.8) scale(1.1,1)" font-size="6.1" text-anchor="end" fill="#4d4d4d" font-family='"Liberation Sans", sans-serif' stroke="#4d4d4d" stroke-width="0.18">1.5</text>
<line x1="36.3" y1="386.2" x2="38.5" y2="386.2" stroke="#333" stroke-width="0.8"/>
<text transform="translate(34.5,389) scale(1.1,1)" font-size="6.1" text-anchor="end" fill="#4d4d4d" font-family='"Liberation Sans", sans-serif' stroke="#4d4d4d" stroke-width="0.18">2.0</text>
<line x1="36.3" y1="364.4" x2="38.5" y2="364.4" stroke="#333" stroke-width="0.8"/>
<text transform="translate(34.5,367.2) scale(1.1,1)" font-size="6.1" text-anchor="end" fill="#4d4d4d" font-family='"Liberation Sans", sans-serif' stroke="#4d4d4d" stroke-width="0.18">2.5</text>
<line x1="36.3" y1="342.6" x2="38.5" y2="342.6" stroke="#333" stroke-width="0.8"/>
<text transform="translate(34.5,345.4) scale(1.1,1)" font-size="6.1" text-anchor="end" fill="#4d4d4d" font-family='"Liberation Sans", sans-serif' stroke="#4d4d4d" stroke-width="0.18">3.0</text>
<line x1="36.3" y1="320.8" x2="38.5" y2="320.8" stroke="#333" stroke-width="0.8"/>
<text transform="translate(34.5,323.6) scale(1.1,1)" font-size="6.1" text-anchor="end" fill="#4d4d4d" font-family='"Liberation Sans", sans-serif' stroke="#4d4d4d" stroke-width="0.18">3.5</text>
<line x1="36.3" y1="299" x2="38.5" y2="299" stroke="#333" stroke-width="0.8"/>
<text transform="translate(34.5,301.8) scale(1.1,1)" font-size="6.1" text-anchor="end" fill="#4d4d4d" font-family='"Liberation Sans", sans-serif' stroke="#4d4d4d" stroke-width="0.18">4.0</text>
<line x1="48.7" y1="481.5" x2="48.7" y2="483.7" stroke="#333" stroke-width="0.8"/>
<text transform="translate(48.7,489.8)" font-size="6" text-anchor="middle" fill="#4d4d4d" font-family='"Liberation Sans", sans-serif' stroke="#4d4d4d" stroke-width="0.18">3</text>
<line x1="58.8" y1="481.5" x2="58.8" y2="483.7" stroke="#333" stroke-width="0.8"/>
<text transform="translate(58.8,489.8)" font-size="6" text-anchor="middle" fill="#4d4d4d" font-family='"Liberation Sans", sans-serif' stroke="#4d4d4d" stroke-width="0.18">4</text>
<line x1="68.9" y1="481.5" x2="68.9" y2="483.7" stroke="#333" stroke-width="0.8"/>
<text transform="translate(68.9,489.8)" font-size="6" text-anchor="middle" fill="#4d4d4d" font-family='"Liberation Sans", sans-serif' stroke="#4d4d4d" stroke-width="0.18">5</text>
<line x1="79" y1="481.5" x2="79" y2="483.7" stroke="#333" stroke-width="0.8"/>
<text transform="translate(79,489.8)" font-size="6" text-anchor="middle" fill="#4d4d4d" font-family='"Liberation Sans", sans-serif' stroke="#4d4d4d" stroke-width="0.18">6</text>
<line x1="89.1" y1="481.5" x2="89.1" y2="483.7" stroke="#333" stroke-width="0.8"/>
<text transform="translate(89.1,489.8)" font-size="6" text-anchor="middle" fill="#4d4d4d" font-family='"Liberation Sans", sans-serif' stroke="#4d4d4d" stroke-width="0.18">7</text>
<line x1="99.2" y1="481.5" x2="99.2" y2="483.7" stroke="#333" stroke-width="0.8"/>
<text transform="translate(99.2,489.8)" font-size="6" text-anchor="middle" fill="#4d4d4d" font-family='"Liberation Sans", sans-serif' stroke="#4d4d4d" stroke-width="0.18">8</text>
<line x1="109.3" y1="481.5" x2="109.3" y2="483.7" stroke="#333" stroke-width="0.8"/>
<text transform="translate(109.3,489.8)" font-size="6" text-anchor="middle" fill="#4d4d4d" font-family='"Liberation Sans", sans-serif' stroke="#4d4d4d" stroke-width="0.18">9</text>
<line x1="119.4" y1="481.5" x2="119.4" y2="483.7" stroke="#333" stroke-width="0.8"/>
<text transform="translate(119.4,489.8)" font-size="6" text-anchor="middle" fill="#4d4d4d" font-family='"Liberation Sans", sans-serif' stroke="#4d4d4d" stroke-width="0.18">10</text>
<line x1="129.5" y1="481.5" x2="129.5" y2="483.7" stroke="#333" stroke-width="0.8"/>
<text transform="translate(129.5,489.8)" font-size="6" text-anchor="middle" fill="#4d4d4d" font-family='"Liberation Sans", sans-serif' stroke="#4d4d4d" stroke-width="0.18">11</text>
<line x1="139.6" y1="481.5" x2="139.6" y2="483.7" stroke="#333" stroke-width="0.8"/>
<text transform="translate(139.6,489.8)" font-size="6" text-anchor="middle" fill="#4d4d4d" font-family='"Liberation Sans", sans-serif' stroke="#4d4d4d" stroke-width="0.18">12</text>
<line x1="149.7" y1="481.5" x2="149.7" y2="483.7" stroke="#333" stroke-width="0.8"/>
<text transform="translate(149.7,489.8)" font-size="6" text-anchor="middle" fill="#4d4d4d" font-family='"Liberation Sans", sans-serif' stroke="#4d4d4d" stroke-width="0.18">13</text>
<line x1="159.8" y1="481.5" x2="159.8" y2="483.7" stroke="#333" stroke-width="0.8"/>
<text transform="translate(159.8,489.8)" font-size="6" text-anchor="middle" fill="#4d4d4d" font-family='"Liberation Sans", sans-serif' stroke="#4d4d4d" stroke-width="0.18">14</text>
<line x1="169.9" y1="481.5" x2="169.9" y2="483.7" stroke="#333" stroke-width="0.8"/>
<text transform="translate(169.9,489.8)" font-size="6" text-anchor="middle" fill="#4d4d4d" font-family='"Liberation Sans", sans-serif' stroke="#4d4d4d" stroke-width="0.18">15</text>
<line x1="180" y1="481.5" x2="180" y2="483.7" stroke="#333" stroke-width="0.8"/>
<text transform="translate(180,489.8)" font-size="6" text-anchor="middle" fill="#4d4d4d" font-family='"Liberation Sans", sans-serif' stroke="#4d4d4d" stroke-width="0.18">16</text>
<line x1="190.1" y1="481.5" x2="190.1" y2="483.7" stroke="#333" stroke-width="0.8"/>
<text transform="translate(190.1,489.8)" font-size="6" text-anchor="middle" fill="#4d4d4d" font-family='"Liberation Sans", sans-serif' stroke="#4d4d4d" stroke-width="0.18">17</text>
<line x1="200.2" y1="481.5" x2="200.2" y2="483.7" stroke="#333" stroke-width="0.8"/>
<text transform="translate(200.2,489.8)" font-size="6" text-anchor="middle" fill="#4d4d4d" font-family='"Liberation Sans", sans-serif' stroke="#4d4d4d" stroke-width="0.18">18</text>
<line x1="210.3" y1="481.5" x2="210.3" y2="483.7" stroke="#333" stroke-width="0.8"/>
<text transform="translate(210.3,489.8)" font-size="6" text-anchor="middle" fill="#4d4d4d" font-family='"Liberation Sans", sans-serif' stroke="#4d4d4d" stroke-width="0.18">19</text>
<line x1="220.4" y1="481.5" x2="220.4" y2="483.7" stroke="#333" stroke-width="0.8"/>
<text transform="translate(220.4,489.8)" font-size="6" text-anchor="middle" fill="#4d4d4d" font-family='"Liberation Sans", sans-serif' stroke="#4d4d4d" stroke-width="0.18">20</text>
<line x1="230.5" y1="481.5" x2="230.5" y2="483.7" stroke="#333" stroke-width="0.8"/>
<text transform="translate(230.5,489.8)" font-size="6" text-anchor="middle" fill="#4d4d4d" font-family='"Liberation Sans", sans-serif' stroke="#4d4d4d" stroke-width="0.18">21</text>
<line x1="240.6" y1="481.5" x2="240.6" y2="483.7" stroke="#333" stroke-width="0.8"/>
<text transform="translate(240.6,489.8)" font-size="6" text-anchor="middle" fill="#4d4d4d" font-family='"Liberation Sans", sans-serif' stroke="#4d4d4d" stroke-width="0.18">22</text>
<line x1="250.7" y1="481.5" x2="250.7" y2="483.7" stroke="#333" stroke-width="0.8"/>
<text transform="translate(250.7,489.8)" font-size="6" text-anchor="middle" fill="#4d4d4d" font-family='"Liberation Sans", sans-serif' stroke="#4d4d4d" stroke-width="0.18">23</text>
<line x1="260.8" y1="481.5" x2="260.8" y2="483.7" stroke="#333" stroke-width="0.8"/>
<text transform="translate(260.8,489.8)" font-size="6" text-anchor="middle" fill="#4d4d4d" font-family='"Liberation Sans", sans-serif' stroke="#4d4d4d" stroke-width="0.18">24</text>
<text transform="translate(155,498.6) scale(1.12,1)" font-size="7.7" text-anchor="middle" fill="#1a1a1a" font-family='"Liberation Sans", sans-serif' stroke="#1a1a1a" stroke-width="0.18">Age (months)</text>
<text transform="translate(20.2,386.5) scale(1.12,1) rotate(-90)" font-size="7.7" text-anchor="middle" fill="#1a1a1a" font-family='"Liberation Sans", sans-serif' stroke="#1a1a1a" stroke-width="0.18">FM (kg)</text>
<text transform="translate(260.5,341.63) scale(1.12,1)" font-size="8.6" text-anchor="middle" fill="#111" font-family='"Liberation Sans", sans-serif' stroke="#111" stroke-width="0.3">***</text>
<text transform="translate(261,362.43) scale(1.12,1)" font-size="8.6" text-anchor="middle" fill="#111" font-family='"Liberation Sans", sans-serif' stroke="#111" stroke-width="0.3">*</text>
<text transform="translate(261.8,386.93) scale(1.12,1)" font-size="8.6" text-anchor="middle" fill="#111" font-family='"Liberation Sans", sans-serif' stroke="#111" stroke-width="0.3">***</text>
<text transform="translate(262.5,401.03) scale(1.12,1)" font-size="8.6" text-anchor="middle" fill="#111" font-family='"Liberation Sans", sans-serif' stroke="#111" stroke-width="0.3">***</text>
<rect x="281" y="347" width="49.5" height="78.5" fill="#fff" stroke="#333" stroke-width="0.9"/>
<text transform="translate(286.1,357.7) scale(1.12,1)" font-size="7.6" text-anchor="start" fill="#1a1a1a" font-family='"Liberation Sans", sans-serif' stroke="#1a1a1a" stroke-width="0.18">Country</text>
<line x1="287.1" y1="367.9" x2="298.3" y2="367.9" stroke="#a52a2a" stroke-width="1.1"/>
<circle cx="292.7" cy="367.9" r="1.55" fill="#a52a2a"/>
<text transform="translate(304.2,370.05) scale(1.12,1)" font-size="6.1" text-anchor="start" fill="#1a1a1a" font-family='"Liberation Sans", sans-serif' stroke="#1a1a1a" stroke-width="0.18">BRA</text>
<line x1="287.1" y1="379.95" x2="298.3" y2="379.95" stroke="#00008b" stroke-width="1.1"/>
<circle cx="292.7" cy="379.95" r="1.55" fill="#00008b"/>
<text transform="translate(304.2,382.1) scale(1.12,1)" font-size="6.1" text-anchor="start" fill="#1a1a1a" font-family='"Liberation Sans", sans-serif' stroke="#1a1a1a" stroke-width="0.18">PAK</text>
<line x1="287.1" y1="392" x2="298.3" y2="392" stroke="#118a11" stroke-width="1.1"/>
<circle cx="292.7" cy="392" r="1.55" fill="#118a11"/>
<text transform="translate(304.2,394.15) scale(1.12,1)" font-size="6.1" text-anchor="start" fill="#1a1a1a" font-family='"Liberation Sans", sans-serif' stroke="#1a1a1a" stroke-width="0.18">SAF</text>
<line x1="287.1" y1="404.05" x2="298.3" y2="404.05" stroke="#f0a010" stroke-width="1.1"/>
<circle cx="292.7" cy="404.05" r="1.55" fill="#f0a010"/>
<text transform="translate(304.2,406.2) scale(1.12,1)" font-size="6.1" text-anchor="start" fill="#1a1a1a" font-family='"Liberation Sans", sans-serif' stroke="#1a1a1a" stroke-width="0.18">SRI</text>
<line x1="287.1" y1="416.1" x2="298.3" y2="416.1" stroke="#000000" stroke-width="1.1"/>
<circle cx="292.7" cy="416.1" r="1.55" fill="#000000"/>
<text transform="translate(304.2,418.25) scale(1.12,1)" font-size="6.1" text-anchor="start" fill="#1a1a1a" font-family='"Liberation Sans", sans-serif' stroke="#1a1a1a" stroke-width="0.18">Pooled</text>
<line x1="379.5" y1="473.4" x2="612.5" y2="473.4" stroke="#efefef" stroke-width="1"/>
<line x1="379.5" y1="451.6" x2="612.5" y2="451.6" stroke="#efefef" stroke-width="1"/>
<line x1="379.5" y1="429.8" x2="612.5" y2="429.8" stroke="#efefef" stroke-width="1"/>
<line x1="379.5" y1="408" x2="612.5" y2="408" stroke="#efefef" stroke-width="1"/>
<line x1="379.5" y1="386.2" x2="612.5" y2="386.2" stroke="#efefef" stroke-width="1"/>
<line x1="379.5" y1="364.4" x2="612.5" y2="364.4" stroke="#efefef" stroke-width="1"/>
<line x1="379.5" y1="342.6" x2="612.5" y2="342.6" stroke="#efefef" stroke-width="1"/>
<line x1="379.5" y1="320.8" x2="612.5" y2="320.8" stroke="#efefef" stroke-width="1"/>
<line x1="379.5" y1="299" x2="612.5" y2="299" stroke="#efefef" stroke-width="1"/>
<line x1="389.9" y1="427.62" x2="389.9" y2="425" stroke="#a52a2a" stroke-width="0.9"/>
<line x1="420.2" y1="398.41" x2="420.2" y2="392.3" stroke="#a52a2a" stroke-width="0.9"/>
<line x1="450.5" y1="392.74" x2="450.5" y2="386.64" stroke="#a52a2a" stroke-width="0.9"/>
<line x1="480.8" y1="387.25" x2="480.8" y2="381.14" stroke="#a52a2a" stroke-width="0.9"/>
<line x1="541.4" y1="382.93" x2="541.4" y2="376.83" stroke="#a52a2a" stroke-width="0.9"/>
<line x1="602" y1="364.4" x2="602" y2="357.42" stroke="#a52a2a" stroke-width="0.9"/>
<line x1="389.9" y1="426.75" x2="389.9" y2="424.13" stroke="#00008b" stroke-width="0.9"/>
<line x1="420.2" y1="401.46" x2="420.2" y2="397.1" stroke="#00008b" stroke-width="0.9"/>
<line x1="450.5" y1="402.99" x2="450.5" y2="397.75" stroke="#00008b" stroke-width="0.9"/>
<line x1="480.8" y1="398.84" x2="480.8" y2="392.74" stroke="#00008b" stroke-width="0.9"/>
<line x1="541.4" y1="387.07" x2="541.4" y2="380.1" stroke="#00008b" stroke-width="0.9"/>
<line x1="602" y1="379.22" x2="602" y2="371.38" stroke="#00008b" stroke-width="0.9"/>
<line x1="389.9" y1="404.51" x2="389.9" y2="399.28" stroke="#118a11" stroke-width="0.9"/>
<line x1="420.2" y1="380.97" x2="420.2" y2="373.99" stroke="#118a11" stroke-width="0.9"/>
<line x1="450.5" y1="368.93" x2="450.5" y2="361.09" stroke="#118a11" stroke-width="0.9"/>
<line x1="480.8" y1="370.2" x2="480.8" y2="363.22" stroke="#118a11" stroke-width="0.9"/>
<line x1="541.4" y1="355.24" x2="541.4" y2="342.16" stroke="#118a11" stroke-width="0.9"/>
<line x1="602" y1="344.78" x2="602" y2="335.19" stroke="#118a11" stroke-width="0.9"/>
<line x1="389.9" y1="432.85" x2="389.9" y2="430.24" stroke="#f0a010" stroke-width="0.9"/>
<line x1="420.2" y1="418.9" x2="420.2" y2="414.54" stroke="#f0a010" stroke-width="0.9"/>
<line x1="450.5" y1="418.03" x2="450.5" y2="412.8" stroke="#f0a010" stroke-width="0.9"/>
<line x1="480.8" y1="417.59" x2="480.8" y2="410.62" stroke="#f0a010" stroke-width="0.9"/>
<line x1="541.4" y1="427.4" x2="541.4" y2="420.43" stroke="#f0a010" stroke-width="0.9"/>
<line x1="602" y1="410.18" x2="602" y2="401.46" stroke="#f0a010" stroke-width="0.9"/>
<line x1="389.9" y1="422.56" x2="389.9" y2="420.82" stroke="#000000" stroke-width="0.9"/>
<line x1="420.2" y1="397.1" x2="420.2" y2="395.36" stroke="#000000" stroke-width="0.9"/>
<line x1="450.5" y1="391.43" x2="450.5" y2="389.69" stroke="#000000" stroke-width="0.9"/>
<line x1="480.8" y1="387.07" x2="480.8" y2="385.33" stroke="#000000" stroke-width="0.9"/>
<line x1="541.4" y1="382.71" x2="541.4" y2="380.1" stroke="#000000" stroke-width="0.9"/>
<line x1="602" y1="366.14" x2="602" y2="363.53" stroke="#000000" stroke-width="0.9"/>
<polyline points="389.9,426.31 420.2,395.36 450.5,389.69 480.8,384.19 541.4,379.88 602,360.91" fill="none" stroke="#a52a2a" stroke-width="1.3" stroke-linejoin="round"/>
<polyline points="389.9,425.44 420.2,399.28 450.5,400.37 480.8,395.79 541.4,383.58 602,375.3" fill="none" stroke="#00008b" stroke-width="1.3" stroke-linejoin="round"/>
<polyline points="389.9,401.9 420.2,377.48 450.5,365.01 480.8,366.71 541.4,348.7 602,339.98" fill="none" stroke="#118a11" stroke-width="1.3" stroke-linejoin="round"/>
<polyline points="389.9,431.54 420.2,416.72 450.5,415.41 480.8,414.1 541.4,423.91 602,405.82" fill="none" stroke="#f0a010" stroke-width="1.3" stroke-linejoin="round"/>
<polyline points="389.9,421.69 420.2,396.23 450.5,390.56 480.8,386.2 541.4,381.4 602,364.84" fill="none" stroke="#000000" stroke-width="1.3" stroke-linejoin="round"/>
<circle cx="389.9" cy="426.31" r="1.75" fill="#a52a2a"/>
<circle cx="420.2" cy="395.36" r="1.75" fill="#a52a2a"/>
<circle cx="450.5" cy="389.69" r="1.75" fill="#a52a2a"/>
<circle cx="480.8" cy="384.19" r="1.75" fill="#a52a2a"/>
<circle cx="541.4" cy="379.88" r="1.75" fill="#a52a2a"/>
<circle cx="602" cy="360.91" r="1.75" fill="#a52a2a"/>
<circle cx="389.9" cy="425.44" r="1.75" fill="#00008b"/>
<circle cx="420.2" cy="399.28" r="1.75" fill="#00008b"/>
<circle cx="450.5" cy="400.37" r="1.75" fill="#00008b"/>
<circle cx="480.8" cy="395.79" r="1.75" fill="#00008b"/>
<circle cx="541.4" cy="383.58" r="1.75" fill="#00008b"/>
<circle cx="602" cy="375.3" r="1.75" fill="#00008b"/>
<circle cx="389.9" cy="401.9" r="1.75" fill="#118a11"/>
<circle cx="420.2" cy="377.48" r="1.75" fill="#118a11"/>
<circle cx="450.5" cy="365.01" r="1.75" fill="#118a11"/>
<circle cx="480.8" cy="366.71" r="1.75" fill="#118a11"/>
<circle cx="541.4" cy="348.7" r="1.75" fill="#118a11"/>
<circle cx="602" cy="339.98" r="1.75" fill="#118a11"/>
<circle cx="389.9" cy="431.54" r="1.75" fill="#f0a010"/>
<circle cx="420.2" cy="416.72" r="1.75" fill="#f0a010"/>
<circle cx="450.5" cy="415.41" r="1.75" fill="#f0a010"/>
<circle cx="480.8" cy="414.1" r="1.75" fill="#f0a010"/>
<circle cx="541.4" cy="423.91" r="1.75" fill="#f0a010"/>
<circle cx="602" cy="405.82" r="1.75" fill="#f0a010"/>
<circle cx="389.9" cy="421.69" r="1.75" fill="#000000"/>
<circle cx="420.2" cy="396.23" r="1.75" fill="#000000"/>
<circle cx="450.5" cy="390.56" r="1.75" fill="#000000"/>
<circle cx="480.8" cy="386.2" r="1.75" fill="#000000"/>
<circle cx="541.4" cy="381.4" r="1.75" fill="#000000"/>
<circle cx="602" cy="364.84" r="1.75" fill="#000000"/>
<rect x="379.5" y="291.5" width="233" height="190" fill="none" stroke="#c6c6c6" stroke-width="1.5"/>
<line x1="377.3" y1="473.4" x2="379.5" y2="473.4" stroke="#333" stroke-width="0.8"/>
<text transform="translate(375.5,476.2) scale(1.1,1)" font-size="6.1" text-anchor="end" fill="#4d4d4d" font-family='"Liberation Sans", sans-serif' stroke="#4d4d4d" stroke-width="0.18">0.0</text>
<line x1="377.3" y1="451.6" x2="379.5" y2="451.6" stroke="#333" stroke-width="0.8"/>
<text transform="translate(375.5,454.4) scale(1.1,1)" font-size="6.1" text-anchor="end" fill="#4d4d4d" font-family='"Liberation Sans", sans-serif' stroke="#4d4d4d" stroke-width="0.18">0.5</text>
<line x1="377.3" y1="429.8" x2="379.5" y2="429.8" stroke="#333" stroke-width="0.8"/>
<text transform="translate(375.5,432.6) scale(1.1,1)" font-size="6.1" text-anchor="end" fill="#4d4d4d" font-family='"Liberation Sans", sans-serif' stroke="#4d4d4d" stroke-width="0.18">1.0</text>
<line x1="377.3" y1="408" x2="379.5" y2="408" stroke="#333" stroke-width="0.8"/>
<text transform="translate(375.5,410.8) scale(1.1,1)" font-size="6.1" text-anchor="end" fill="#4d4d4d" font-family='"Liberation Sans", sans-serif' stroke="#4d4d4d" stroke-width="0.18">1.5</text>
<line x1="377.3" y1="386.2" x2="379.5" y2="386.2" stroke="#333" stroke-width="0.8"/>
<text transform="translate(375.5,389) scale(1.1,1)" font-size="6.1" text-anchor="end" fill="#4d4d4d" font-family='"Liberation Sans", sans-serif' stroke="#4d4d4d" stroke-width="0.18">2.0</text>
<line x1="377.3" y1="364.4" x2="379.5" y2="364.4" stroke="#333" stroke-width="0.8"/>
<text transform="translate(375.5,367.2) scale(1.1,1)" font-size="6.1" text-anchor="end" fill="#4d4d4d" font-family='"Liberation Sans", sans-serif' stroke="#4d4d4d" stroke-width="0.18">2.5</text>
<line x1="377.3" y1="342.6" x2="379.5" y2="342.6" stroke="#333" stroke-width="0.8"/>
<text transform="translate(375.5,345.4) scale(1.1,1)" font-size="6.1" text-anchor="end" fill="#4d4d4d" font-family='"Liberation Sans", sans-serif' stroke="#4d4d4d" stroke-width="0.18">3.0</text>
<line x1="377.3" y1="320.8" x2="379.5" y2="320.8" stroke="#333" stroke-width="0.8"/>
<text transform="translate(375.5,323.6) scale(1.1,1)" font-size="6.1" text-anchor="end" fill="#4d4d4d" font-family='"Liberation Sans", sans-serif' stroke="#4d4d4d" stroke-width="0.18">3.5</text>
<line x1="377.3" y1="299" x2="379.5" y2="299" stroke="#333" stroke-width="0.8"/>
<text transform="translate(375.5,301.8) scale(1.1,1)" font-size="6.1" text-anchor="end" fill="#4d4d4d" font-family='"Liberation Sans", sans-serif' stroke="#4d4d4d" stroke-width="0.18">4.0</text>
<line x1="389.9" y1="481.5" x2="389.9" y2="483.7" stroke="#333" stroke-width="0.8"/>
<text transform="translate(389.9,489.8)" font-size="6" text-anchor="middle" fill="#4d4d4d" font-family='"Liberation Sans", sans-serif' stroke="#4d4d4d" stroke-width="0.18">3</text>
<line x1="400" y1="481.5" x2="400" y2="483.7" stroke="#333" stroke-width="0.8"/>
<text transform="translate(400,489.8)" font-size="6" text-anchor="middle" fill="#4d4d4d" font-family='"Liberation Sans", sans-serif' stroke="#4d4d4d" stroke-width="0.18">4</text>
<line x1="410.1" y1="481.5" x2="410.1" y2="483.7" stroke="#333" stroke-width="0.8"/>
<text transform="translate(410.1,489.8)" font-size="6" text-anchor="middle" fill="#4d4d4d" font-family='"Liberation Sans", sans-serif' stroke="#4d4d4d" stroke-width="0.18">5</text>
<line x1="420.2" y1="481.5" x2="420.2" y2="483.7" stroke="#333" stroke-width="0.8"/>
<text transform="translate(420.2,489.8)" font-size="6" text-anchor="middle" fill="#4d4d4d" font-family='"Liberation Sans", sans-serif' stroke="#4d4d4d" stroke-width="0.18">6</text>
<line x1="430.3" y1="481.5" x2="430.3" y2="483.7" stroke="#333" stroke-width="0.8"/>
<text transform="translate(430.3,489.8)" font-size="6" text-anchor="middle" fill="#4d4d4d" font-family='"Liberation Sans", sans-serif' stroke="#4d4d4d" stroke-width="0.18">7</text>
<line x1="440.4" y1="481.5" x2="440.4" y2="483.7" stroke="#333" stroke-width="0.8"/>
<text transform="translate(440.4,489.8)" font-size="6" text-anchor="middle" fill="#4d4d4d" font-family='"Liberation Sans", sans-serif' stroke="#4d4d4d" stroke-width="0.18">8</text>
<line x1="450.5" y1="481.5" x2="450.5" y2="483.7" stroke="#333" stroke-width="0.8"/>
<text transform="translate(450.5,489.8)" font-size="6" text-anchor="middle" fill="#4d4d4d" font-family='"Liberation Sans", sans-serif' stroke="#4d4d4d" stroke-width="0.18">9</text>
<line x1="460.6" y1="481.5" x2="460.6" y2="483.7" stroke="#333" stroke-width="0.8"/>
<text transform="translate(460.6,489.8)" font-size="6" text-anchor="middle" fill="#4d4d4d" font-family='"Liberation Sans", sans-serif' stroke="#4d4d4d" stroke-width="0.18">10</text>
<line x1="470.7" y1="481.5" x2="470.7" y2="483.7" stroke="#333" stroke-width="0.8"/>
<text transform="translate(470.7,489.8)" font-size="6" text-anchor="middle" fill="#4d4d4d" font-family='"Liberation Sans", sans-serif' stroke="#4d4d4d" stroke-width="0.18">11</text>
<line x1="480.8" y1="481.5" x2="480.8" y2="483.7" stroke="#333" stroke-width="0.8"/>
<text transform="translate(480.8,489.8)" font-size="6" text-anchor="middle" fill="#4d4d4d" font-family='"Liberation Sans", sans-serif' stroke="#4d4d4d" stroke-width="0.18">12</text>
<line x1="490.9" y1="481.5" x2="490.9" y2="483.7" stroke="#333" stroke-width="0.8"/>
<text transform="translate(490.9,489.8)" font-size="6" text-anchor="middle" fill="#4d4d4d" font-family='"Liberation Sans", sans-serif' stroke="#4d4d4d" stroke-width="0.18">13</text>
<line x1="501" y1="481.5" x2="501" y2="483.7" stroke="#333" stroke-width="0.8"/>
<text transform="translate(501,489.8)" font-size="6" text-anchor="middle" fill="#4d4d4d" font-family='"Liberation Sans", sans-serif' stroke="#4d4d4d" stroke-width="0.18">14</text>
<line x1="511.1" y1="481.5" x2="511.1" y2="483.7" stroke="#333" stroke-width="0.8"/>
<text transform="translate(511.1,489.8)" font-size="6" text-anchor="middle" fill="#4d4d4d" font-family='"Liberation Sans", sans-serif' stroke="#4d4d4d" stroke-width="0.18">15</text>
<line x1="521.2" y1="481.5" x2="521.2" y2="483.7" stroke="#333" stroke-width="0.8"/>
<text transform="translate(521.2,489.8)" font-size="6" text-anchor="middle" fill="#4d4d4d" font-family='"Liberation Sans", sans-serif' stroke="#4d4d4d" stroke-width="0.18">16</text>
<line x1="531.3" y1="481.5" x2="531.3" y2="483.7" stroke="#333" stroke-width="0.8"/>
<text transform="translate(531.3,489.8)" font-size="6" text-anchor="middle" fill="#4d4d4d" font-family='"Liberation Sans", sans-serif' stroke="#4d4d4d" stroke-width="0.18">17</text>
<line x1="541.4" y1="481.5" x2="541.4" y2="483.7" stroke="#333" stroke-width="0.8"/>
<text transform="translate(541.4,489.8)" font-size="6" text-anchor="middle" fill="#4d4d4d" font-family='"Liberation Sans", sans-serif' stroke="#4d4d4d" stroke-width="0.18">18</text>
<line x1="551.5" y1="481.5" x2="551.5" y2="483.7" stroke="#333" stroke-width="0.8"/>
<text transform="translate(551.5,489.8)" font-size="6" text-anchor="middle" fill="#4d4d4d" font-family='"Liberation Sans", sans-serif' stroke="#4d4d4d" stroke-width="0.18">19</text>
<line x1="561.6" y1="481.5" x2="561.6" y2="483.7" stroke="#333" stroke-width="0.8"/>
<text transform="translate(561.6,489.8)" font-size="6" text-anchor="middle" fill="#4d4d4d" font-family='"Liberation Sans", sans-serif' stroke="#4d4d4d" stroke-width="0.18">20</text>
<line x1="571.7" y1="481.5" x2="571.7" y2="483.7" stroke="#333" stroke-width="0.8"/>
<text transform="translate(571.7,489.8)" font-size="6" text-anchor="middle" fill="#4d4d4d" font-family='"Liberation Sans", sans-serif' stroke="#4d4d4d" stroke-width="0.18">21</text>
<line x1="581.8" y1="481.5" x2="581.8" y2="483.7" stroke="#333" stroke-width="0.8"/>
<text transform="translate(581.8,489.8)" font-size="6" text-anchor="middle" fill="#4d4d4d" font-family='"Liberation Sans", sans-serif' stroke="#4d4d4d" stroke-width="0.18">22</text>
<line x1="591.9" y1="481.5" x2="591.9" y2="483.7" stroke="#333" stroke-width="0.8"/>
<text transform="translate(591.9,489.8)" font-size="6" text-anchor="middle" fill="#4d4d4d" font-family='"Liberation Sans", sans-serif' stroke="#4d4d4d" stroke-width="0.18">23</text>
<line x1="602" y1="481.5" x2="602" y2="483.7" stroke="#333" stroke-width="0.8"/>
<text transform="translate(602,489.8)" font-size="6" text-anchor="middle" fill="#4d4d4d" font-family='"Liberation Sans", sans-serif' stroke="#4d4d4d" stroke-width="0.18">24</text>
<text transform="translate(496,498.6) scale(1.12,1)" font-size="7.7" text-anchor="middle" fill="#1a1a1a" font-family='"Liberation Sans", sans-serif' stroke="#1a1a1a" stroke-width="0.18">Age (months)</text>
<text transform="translate(361.2,386.5) scale(1.12,1) rotate(-90)" font-size="7.7" text-anchor="middle" fill="#1a1a1a" font-family='"Liberation Sans", sans-serif' stroke="#1a1a1a" stroke-width="0.18">FM (kg)</text>
<text transform="translate(602.7,334.83) scale(1.12,1)" font-size="8.6" text-anchor="middle" fill="#111" font-family='"Liberation Sans", sans-serif' stroke="#111" stroke-width="0.3">***</text>
<text transform="translate(606.2,378.03) scale(1.12,1)" font-size="8.6" text-anchor="middle" fill="#111" font-family='"Liberation Sans", sans-serif' stroke="#111" stroke-width="0.3">*</text>
<text transform="translate(604,403.33) scale(1.12,1)" font-size="8.6" text-anchor="middle" fill="#111" font-family='"Liberation Sans", sans-serif' stroke="#111" stroke-width="0.3">***</text>
<line x1="612.5" y1="372.2" x2="612.5" y2="375.2" stroke="#7890a8" stroke-width="0.9"/>
<rect x="621.5" y="347" width="49.5" height="79" fill="#fff" stroke="#333" stroke-width="0.9"/>
<text transform="translate(626.6,357.7) scale(1.12,1)" font-size="7.6" text-anchor="start" fill="#1a1a1a" font-family='"Liberation Sans", sans-serif' stroke="#1a1a1a" stroke-width="0.18">Country</text>
<line x1="627.6" y1="367.9" x2="638.8" y2="367.9" stroke="#a52a2a" stroke-width="1.1"/>
<circle cx="633.2" cy="367.9" r="1.55" fill="#a52a2a"/>
<text transform="translate(644.7,370.05) scale(1.12,1)" font-size="6.1" text-anchor="start" fill="#1a1a1a" font-family='"Liberation Sans", sans-serif' stroke="#1a1a1a" stroke-width="0.18">BRA</text>
<line x1="627.6" y1="379.95" x2="638.8" y2="379.95" stroke="#00008b" stroke-width="1.1"/>
<circle cx="633.2" cy="379.95" r="1.55" fill="#00008b"/>
<text transform="translate(644.7,382.1) scale(1.12,1)" font-size="6.1" text-anchor="start" fill="#1a1a1a" font-family='"Liberation Sans", sans-serif' stroke="#1a1a1a" stroke-width="0.18">PAK</text>
<line x1="627.6" y1="392" x2="638.8" y2="392" stroke="#118a11" stroke-width="1.1"/>
<circle cx="633.2" cy="392" r="1.55" fill="#118a11"/>
<text transform="translate(644.7,394.15) scale(1.12,1)" font-size="6.1" text-anchor="start" fill="#1a1a1a" font-family='"Liberation Sans", sans-serif' stroke="#1a1a1a" stroke-width="0.18">SAF</text>
<line x1="627.6" y1="404.05" x2="638.8" y2="404.05" stroke="#f0a010" stroke-width="1.1"/>
<circle cx="633.2" cy="404.05" r="1.55" fill="#f0a010"/>
<text transform="translate(644.7,406.2) scale(1.12,1)" font-size="6.1" text-anchor="start" fill="#1a1a1a" font-family='"Liberation Sans", sans-serif' stroke="#1a1a1a" stroke-width="0.18">SRI</text>
<line x1="627.6" y1="416.1" x2="638.8" y2="416.1" stroke="#000000" stroke-width="1.1"/>
<circle cx="633.2" cy="416.1" r="1.55" fill="#000000"/>
<text transform="translate(644.7,418.25) scale(1.12,1)" font-size="6.1" text-anchor="start" fill="#1a1a1a" font-family='"Liberation Sans", sans-serif' stroke="#1a1a1a" stroke-width="0.18">Pooled</text>
<line x1="27.5" y1="708.3" x2="283.5" y2="708.3" stroke="#efefef" stroke-width="1"/>
<line x1="27.5" y1="682.85" x2="283.5" y2="682.85" stroke="#efefef" stroke-width="1"/>
<line x1="27.5" y1="657.4" x2="283.5" y2="657.4" stroke="#efefef" stroke-width="1"/>
<line x1="27.5" y1="631.95" x2="283.5" y2="631.95" stroke="#efefef" stroke-width="1"/>
<line x1="27.5" y1="606.5" x2="283.5" y2="606.5" stroke="#efefef" stroke-width="1"/>
<line x1="27.5" y1="581.05" x2="283.5" y2="581.05" stroke="#efefef" stroke-width="1"/>
<line x1="27.5" y1="555.6" x2="283.5" y2="555.6" stroke="#efefef" stroke-width="1"/>
<line x1="39.2" y1="631.95" x2="39.2" y2="630.42" stroke="#ff2a14" stroke-width="0.9"/>
<line x1="77.35" y1="615.66" x2="77.35" y2="614.13" stroke="#ff2a14" stroke-width="0.9"/>
<line x1="115.5" y1="601.16" x2="115.5" y2="599.63" stroke="#ff2a14" stroke-width="0.9"/>
<line x1="153.65" y1="590.47" x2="153.65" y2="588.94" stroke="#ff2a14" stroke-width="0.9"/>
<line x1="191.8" y1="581.05" x2="191.8" y2="579.52" stroke="#ff2a14" stroke-width="0.9"/>
<line x1="268.1" y1="565.02" x2="268.1" y2="563.49" stroke="#ff2a14" stroke-width="0.9"/>
<line x1="40.13" y1="642.38" x2="40.13" y2="640.86" stroke="#1a35ff" stroke-width="0.9"/>
<line x1="78.28" y1="627.62" x2="78.28" y2="626.1" stroke="#1a35ff" stroke-width="0.9"/>
<line x1="116.43" y1="610.83" x2="116.43" y2="609.3" stroke="#1a35ff" stroke-width="0.9"/>
<line x1="154.58" y1="599.37" x2="154.58" y2="597.85" stroke="#1a35ff" stroke-width="0.9"/>
<line x1="192.73" y1="588.43" x2="192.73" y2="586.9" stroke="#1a35ff" stroke-width="0.9"/>
<line x1="269.03" y1="569.85" x2="269.03" y2="568.32" stroke="#1a35ff" stroke-width="0.9"/>
<line x1="41.07" y1="639.33" x2="41.07" y2="637.8" stroke="#118a11" stroke-width="0.9"/>
<line x1="79.22" y1="622.53" x2="79.22" y2="621.01" stroke="#118a11" stroke-width="0.9"/>
<line x1="117.37" y1="607.26" x2="117.37" y2="605.74" stroke="#118a11" stroke-width="0.9"/>
<line x1="155.52" y1="593.01" x2="155.52" y2="591.48" stroke="#118a11" stroke-width="0.9"/>
<line x1="193.67" y1="583.6" x2="193.67" y2="582.07" stroke="#118a11" stroke-width="0.9"/>
<line x1="269.97" y1="571.38" x2="269.97" y2="569.85" stroke="#118a11" stroke-width="0.9"/>
<line x1="42" y1="638.06" x2="42" y2="636.53" stroke="#000000" stroke-width="0.9"/>
<line x1="80.15" y1="622.28" x2="80.15" y2="620.75" stroke="#000000" stroke-width="0.9"/>
<line x1="118.3" y1="607.01" x2="118.3" y2="605.48" stroke="#000000" stroke-width="0.9"/>
<line x1="156.45" y1="594.28" x2="156.45" y2="592.76" stroke="#000000" stroke-width="0.9"/>
<line x1="194.6" y1="585.12" x2="194.6" y2="583.59" stroke="#000000" stroke-width="0.9"/>
<line x1="270.9" y1="568.32" x2="270.9" y2="566.8" stroke="#000000" stroke-width="0.9"/>
<polyline points="39.2,631.19 77.35,614.9 115.5,600.39 153.65,589.7 191.8,580.29 268.1,564.25" fill="none" stroke="#ff2a14" stroke-width="1.3" stroke-linejoin="round"/>
<polyline points="40.13,641.62 78.28,626.86 116.43,610.06 154.58,598.61 192.73,587.67 269.03,569.09" fill="none" stroke="#1a35ff" stroke-width="1.3" stroke-linejoin="round"/>
<polyline points="41.07,638.57 79.22,621.77 117.37,606.5 155.52,592.25 193.67,582.83 269.97,570.62" fill="none" stroke="#118a11" stroke-width="1.3" stroke-linejoin="round"/>
<polyline points="42,637.29 80.15,621.52 118.3,606.25 156.45,593.52 194.6,584.36 270.9,567.56" fill="none" stroke="#000000" stroke-width="1.3" stroke-linejoin="round"/>
<circle cx="39.2" cy="631.19" r="1.75" fill="#ff2a14"/>
<circle cx="77.35" cy="614.9" r="1.75" fill="#ff2a14"/>
<circle cx="115.5" cy="600.39" r="1.75" fill="#ff2a14"/>
<circle cx="153.65" cy="589.7" r="1.75" fill="#ff2a14"/>
<circle cx="191.8" cy="580.29" r="1.75" fill="#ff2a14"/>
<circle cx="268.1" cy="564.25" r="1.75" fill="#ff2a14"/>
<circle cx="40.13" cy="641.62" r="1.75" fill="#1a35ff"/>
<circle cx="78.28" cy="626.86" r="1.75" fill="#1a35ff"/>
<circle cx="116.43" cy="610.06" r="1.75" fill="#1a35ff"/>
<circle cx="154.58" cy="598.61" r="1.75" fill="#1a35ff"/>
<circle cx="192.73" cy="587.67" r="1.75" fill="#1a35ff"/>
<circle cx="269.03" cy="569.09" r="1.75" fill="#1a35ff"/>
<circle cx="41.07" cy="638.57" r="1.75" fill="#118a11"/>
<circle cx="79.22" cy="621.77" r="1.75" fill="#118a11"/>
<circle cx="117.37" cy="606.5" r="1.75" fill="#118a11"/>
<circle cx="155.52" cy="592.25" r="1.75" fill="#118a11"/>
<circle cx="193.67" cy="582.83" r="1.75" fill="#118a11"/>
<circle cx="269.97" cy="570.62" r="1.75" fill="#118a11"/>
<circle cx="42" cy="637.29" r="1.75" fill="#000000"/>
<circle cx="80.15" cy="621.52" r="1.75" fill="#000000"/>
<circle cx="118.3" cy="606.25" r="1.75" fill="#000000"/>
<circle cx="156.45" cy="593.52" r="1.75" fill="#000000"/>
<circle cx="194.6" cy="584.36" r="1.75" fill="#000000"/>
<circle cx="270.9" cy="567.56" r="1.75" fill="#000000"/>
<rect x="27.5" y="548.5" width="256" height="167" fill="none" stroke="#c6c6c6" stroke-width="1.5"/>
<line x1="25.3" y1="708.3" x2="27.5" y2="708.3" stroke="#333" stroke-width="0.8"/>
<text transform="translate(23.5,711.1) scale(0.86,1)" font-size="6.6" text-anchor="end" fill="#4d4d4d" font-family='"Liberation Sans", sans-serif' stroke="#4d4d4d" stroke-width="0.18">0</text>
<line x1="25.3" y1="682.85" x2="27.5" y2="682.85" stroke="#333" stroke-width="0.8"/>
<text transform="translate(23.5,685.65) scale(0.86,1)" font-size="6.6" text-anchor="end" fill="#4d4d4d" font-family='"Liberation Sans", sans-serif' stroke="#4d4d4d" stroke-width="0.18">1</text>
<line x1="25.3" y1="657.4" x2="27.5" y2="657.4" stroke="#333" stroke-width="0.8"/>
<text transform="translate(23.5,660.2) scale(0.86,1)" font-size="6.6" text-anchor="end" fill="#4d4d4d" font-family='"Liberation Sans", sans-serif' stroke="#4d4d4d" stroke-width="0.18">2</text>
<line x1="25.3" y1="631.95" x2="27.5" y2="631.95" stroke="#333" stroke-width="0.8"/>
<text transform="translate(23.5,634.75) scale(0.86,1)" font-size="6.6" text-anchor="end" fill="#4d4d4d" font-family='"Liberation Sans", sans-serif' stroke="#4d4d4d" stroke-width="0.18">3</text>
<line x1="25.3" y1="606.5" x2="27.5" y2="606.5" stroke="#333" stroke-width="0.8"/>
<text transform="translate(23.5,609.3) scale(0.86,1)" font-size="6.6" text-anchor="end" fill="#4d4d4d" font-family='"Liberation Sans", sans-serif' stroke="#4d4d4d" stroke-width="0.18">4</text>
<line x1="25.3" y1="581.05" x2="27.5" y2="581.05" stroke="#333" stroke-width="0.8"/>
<text transform="translate(23.5,583.85) scale(0.86,1)" font-size="6.6" text-anchor="end" fill="#4d4d4d" font-family='"Liberation Sans", sans-serif' stroke="#4d4d4d" stroke-width="0.18">5</text>
<line x1="25.3" y1="555.6" x2="27.5" y2="555.6" stroke="#333" stroke-width="0.8"/>
<text transform="translate(23.5,558.4) scale(0.86,1)" font-size="6.6" text-anchor="end" fill="#4d4d4d" font-family='"Liberation Sans", sans-serif' stroke="#4d4d4d" stroke-width="0.18">6</text>
<line x1="40.6" y1="715.5" x2="40.6" y2="717.7" stroke="#333" stroke-width="0.8"/>
<text transform="translate(40.6,723.8) scale(0.86,1)" font-size="6.6" text-anchor="middle" fill="#4d4d4d" font-family='"Liberation Sans", sans-serif' stroke="#4d4d4d" stroke-width="0.18">0</text>
<line x1="78.75" y1="715.5" x2="78.75" y2="717.7" stroke="#333" stroke-width="0.8"/>
<text transform="translate(78.75,723.8) scale(0.86,1)" font-size="6.6" text-anchor="middle" fill="#4d4d4d" font-family='"Liberation Sans", sans-serif' stroke="#4d4d4d" stroke-width="0.18">1</text>
<line x1="116.9" y1="715.5" x2="116.9" y2="717.7" stroke="#333" stroke-width="0.8"/>
<text transform="translate(116.9,723.8) scale(0.86,1)" font-size="6.6" text-anchor="middle" fill="#4d4d4d" font-family='"Liberation Sans", sans-serif' stroke="#4d4d4d" stroke-width="0.18">2</text>
<line x1="155.05" y1="715.5" x2="155.05" y2="717.7" stroke="#333" stroke-width="0.8"/>
<text transform="translate(155.05,723.8) scale(0.86,1)" font-size="6.6" text-anchor="middle" fill="#4d4d4d" font-family='"Liberation Sans", sans-serif' stroke="#4d4d4d" stroke-width="0.18">3</text>
<line x1="193.2" y1="715.5" x2="193.2" y2="717.7" stroke="#333" stroke-width="0.8"/>
<text transform="translate(193.2,723.8) scale(0.86,1)" font-size="6.6" text-anchor="middle" fill="#4d4d4d" font-family='"Liberation Sans", sans-serif' stroke="#4d4d4d" stroke-width="0.18">4</text>
<line x1="231.35" y1="715.5" x2="231.35" y2="717.7" stroke="#333" stroke-width="0.8"/>
<text transform="translate(231.35,723.8) scale(0.86,1)" font-size="6.6" text-anchor="middle" fill="#4d4d4d" font-family='"Liberation Sans", sans-serif' stroke="#4d4d4d" stroke-width="0.18">5</text>
<line x1="269.5" y1="715.5" x2="269.5" y2="717.7" stroke="#333" stroke-width="0.8"/>
<text transform="translate(269.5,723.8) scale(0.86,1)" font-size="6.6" text-anchor="middle" fill="#4d4d4d" font-family='"Liberation Sans", sans-serif' stroke="#4d4d4d" stroke-width="0.18">6</text>
<text transform="translate(155.5,732.6)" font-size="7.7" text-anchor="middle" fill="#1a1a1a" font-family='"Liberation Sans", sans-serif' stroke="#1a1a1a" stroke-width="0.18">Age (months)</text>
<text transform="translate(16.4,632.3) rotate(-90)" font-size="7.7" text-anchor="middle" fill="#1a1a1a" font-family='"Liberation Sans", sans-serif' stroke="#1a1a1a" stroke-width="0.18">FFM (kg)</text>
<rect x="291" y="598.5" width="42.9" height="67" fill="#fff" stroke="#333" stroke-width="0.9"/>
<text transform="translate(295,609.2)" font-size="7.6" text-anchor="start" fill="#1a1a1a" font-family='"Liberation Sans", sans-serif' stroke="#1a1a1a" stroke-width="0.18">Country</text>
<line x1="295.9" y1="619.4" x2="306.1" y2="619.4" stroke="#ff2a14" stroke-width="1.1"/>
<circle cx="301" cy="619.4" r="1.55" fill="#ff2a14"/>
<text transform="translate(311,621.55)" font-size="6.1" text-anchor="start" fill="#1a1a1a" font-family='"Liberation Sans", sans-serif' stroke="#1a1a1a" stroke-width="0.18">AUS</text>
<line x1="295.9" y1="631.45" x2="306.1" y2="631.45" stroke="#1a35ff" stroke-width="1.1"/>
<circle cx="301" cy="631.45" r="1.55" fill="#1a35ff"/>
<text transform="translate(311,633.6)" font-size="6.1" text-anchor="start" fill="#1a1a1a" font-family='"Liberation Sans", sans-serif' stroke="#1a1a1a" stroke-width="0.18">IND</text>
<line x1="295.9" y1="643.5" x2="306.1" y2="643.5" stroke="#118a11" stroke-width="1.1"/>
<circle cx="301" cy="643.5" r="1.55" fill="#118a11"/>
<text transform="translate(311,645.65)" font-size="6.1" text-anchor="start" fill="#1a1a1a" font-family='"Liberation Sans", sans-serif' stroke="#1a1a1a" stroke-width="0.18">SAF</text>
<line x1="295.9" y1="655.55" x2="306.1" y2="655.55" stroke="#000000" stroke-width="1.1"/>
<circle cx="301" cy="655.55" r="1.55" fill="#000000"/>
<text transform="translate(311,657.7)" font-size="6.1" text-anchor="start" fill="#1a1a1a" font-family='"Liberation Sans", sans-serif' stroke="#1a1a1a" stroke-width="0.18">Pooled</text>
<line x1="368.5" y1="708.3" x2="623.5" y2="708.3" stroke="#efefef" stroke-width="1"/>
<line x1="368.5" y1="682.85" x2="623.5" y2="682.85" stroke="#efefef" stroke-width="1"/>
<line x1="368.5" y1="657.4" x2="623.5" y2="657.4" stroke="#efefef" stroke-width="1"/>
<line x1="368.5" y1="631.95" x2="623.5" y2="631.95" stroke="#efefef" stroke-width="1"/>
<line x1="368.5" y1="606.5" x2="623.5" y2="606.5" stroke="#efefef" stroke-width="1"/>
<line x1="368.5" y1="581.05" x2="623.5" y2="581.05" stroke="#efefef" stroke-width="1"/>
<line x1="368.5" y1="555.6" x2="623.5" y2="555.6" stroke="#efefef" stroke-width="1"/>
<line x1="379.9" y1="635" x2="379.9" y2="633.48" stroke="#ff2a14" stroke-width="0.9"/>
<line x1="418.05" y1="621.52" x2="418.05" y2="619.99" stroke="#ff2a14" stroke-width="0.9"/>
<line x1="456.2" y1="609.55" x2="456.2" y2="608.03" stroke="#ff2a14" stroke-width="0.9"/>
<line x1="494.35" y1="600.39" x2="494.35" y2="598.87" stroke="#ff2a14" stroke-width="0.9"/>
<line x1="532.5" y1="590.72" x2="532.5" y2="589.19" stroke="#ff2a14" stroke-width="0.9"/>
<line x1="608.8" y1="576.47" x2="608.8" y2="574.94" stroke="#ff2a14" stroke-width="0.9"/>
<line x1="380.83" y1="644.67" x2="380.83" y2="643.15" stroke="#1a35ff" stroke-width="0.9"/>
<line x1="418.98" y1="633.22" x2="418.98" y2="631.7" stroke="#1a35ff" stroke-width="0.9"/>
<line x1="457.13" y1="620.75" x2="457.13" y2="619.22" stroke="#1a35ff" stroke-width="0.9"/>
<line x1="495.28" y1="609.3" x2="495.28" y2="607.77" stroke="#1a35ff" stroke-width="0.9"/>
<line x1="533.43" y1="599.88" x2="533.43" y2="598.36" stroke="#1a35ff" stroke-width="0.9"/>
<line x1="609.73" y1="585.12" x2="609.73" y2="583.59" stroke="#1a35ff" stroke-width="0.9"/>
<line x1="381.77" y1="643.15" x2="381.77" y2="641.62" stroke="#118a11" stroke-width="0.9"/>
<line x1="419.92" y1="628.39" x2="419.92" y2="626.86" stroke="#118a11" stroke-width="0.9"/>
<line x1="458.07" y1="614.39" x2="458.07" y2="612.86" stroke="#118a11" stroke-width="0.9"/>
<line x1="496.22" y1="602.43" x2="496.22" y2="600.9" stroke="#118a11" stroke-width="0.9"/>
<line x1="534.37" y1="593.27" x2="534.37" y2="591.74" stroke="#118a11" stroke-width="0.9"/>
<line x1="610.67" y1="577.23" x2="610.67" y2="575.71" stroke="#118a11" stroke-width="0.9"/>
<line x1="382.7" y1="641.37" x2="382.7" y2="639.84" stroke="#000000" stroke-width="0.9"/>
<line x1="420.85" y1="627.88" x2="420.85" y2="626.35" stroke="#000000" stroke-width="0.9"/>
<line x1="459" y1="614.9" x2="459" y2="613.37" stroke="#000000" stroke-width="0.9"/>
<line x1="497.15" y1="604.21" x2="497.15" y2="602.68" stroke="#000000" stroke-width="0.9"/>
<line x1="535.3" y1="594.79" x2="535.3" y2="593.27" stroke="#000000" stroke-width="0.9"/>
<line x1="611.6" y1="580.29" x2="611.6" y2="578.76" stroke="#000000" stroke-width="0.9"/>
<polyline points="379.9,634.24 418.05,620.75 456.2,608.79 494.35,599.63 532.5,589.96 608.8,575.71" fill="none" stroke="#ff2a14" stroke-width="1.3" stroke-linejoin="round"/>
<polyline points="380.83,643.91 418.98,632.46 457.13,619.99 495.28,608.54 533.43,599.12 609.73,584.36" fill="none" stroke="#1a35ff" stroke-width="1.3" stroke-linejoin="round"/>
<polyline points="381.77,642.38 419.92,627.62 458.07,613.63 496.22,601.66 534.37,592.5 610.67,576.47" fill="none" stroke="#118a11" stroke-width="1.3" stroke-linejoin="round"/>
<polyline points="382.7,640.6 420.85,627.11 459,614.13 497.15,603.45 535.3,594.03 611.6,579.52" fill="none" stroke="#000000" stroke-width="1.3" stroke-linejoin="round"/>
<circle cx="379.9" cy="634.24" r="1.75" fill="#ff2a14"/>
<circle cx="418.05" cy="620.75" r="1.75" fill="#ff2a14"/>
<circle cx="456.2" cy="608.79" r="1.75" fill="#ff2a14"/>
<circle cx="494.35" cy="599.63" r="1.75" fill="#ff2a14"/>
<circle cx="532.5" cy="589.96" r="1.75" fill="#ff2a14"/>
<circle cx="608.8" cy="575.71" r="1.75" fill="#ff2a14"/>
<circle cx="380.83" cy="643.91" r="1.75" fill="#1a35ff"/>
<circle cx="418.98" cy="632.46" r="1.75" fill="#1a35ff"/>
<circle cx="457.13" cy="619.99" r="1.75" fill="#1a35ff"/>
<circle cx="495.28" cy="608.54" r="1.75" fill="#1a35ff"/>
<circle cx="533.43" cy="599.12" r="1.75" fill="#1a35ff"/>
<circle cx="609.73" cy="584.36" r="1.75" fill="#1a35ff"/>
<circle cx="381.77" cy="642.38" r="1.75" fill="#118a11"/>
<circle cx="419.92" cy="627.62" r="1.75" fill="#118a11"/>
<circle cx="458.07" cy="613.63" r="1.75" fill="#118a11"/>
<circle cx="496.22" cy="601.66" r="1.75" fill="#118a11"/>
<circle cx="534.37" cy="592.5" r="1.75" fill="#118a11"/>
<circle cx="610.67" cy="576.47" r="1.75" fill="#118a11"/>
<circle cx="382.7" cy="640.6" r="1.75" fill="#000000"/>
<circle cx="420.85" cy="627.11" r="1.75" fill="#000000"/>
<circle cx="459" cy="614.13" r="1.75" fill="#000000"/>
<circle cx="497.15" cy="603.45" r="1.75" fill="#000000"/>
<circle cx="535.3" cy="594.03" r="1.75" fill="#000000"/>
<circle cx="611.6" cy="579.52" r="1.75" fill="#000000"/>
<rect x="368.5" y="548.5" width="255" height="167" fill="none" stroke="#c6c6c6" stroke-width="1.5"/>
<line x1="366.3" y1="708.3" x2="368.5" y2="708.3" stroke="#333" stroke-width="0.8"/>
<text transform="translate(364.5,711.1) scale(0.86,1)" font-size="6.6" text-anchor="end" fill="#4d4d4d" font-family='"Liberation Sans", sans-serif' stroke="#4d4d4d" stroke-width="0.18">0</text>
<line x1="366.3" y1="682.85" x2="368.5" y2="682.85" stroke="#333" stroke-width="0.8"/>
<text transform="translate(364.5,685.65) scale(0.86,1)" font-size="6.6" text-anchor="end" fill="#4d4d4d" font-family='"Liberation Sans", sans-serif' stroke="#4d4d4d" stroke-width="0.18">1</text>
<line x1="366.3" y1="657.4" x2="368.5" y2="657.4" stroke="#333" stroke-width="0.8"/>
<text transform="translate(364.5,660.2) scale(0.86,1)" font-size="6.6" text-anchor="end" fill="#4d4d4d" font-family='"Liberation Sans", sans-serif' stroke="#4d4d4d" stroke-width="0.18">2</text>
<line x1="366.3" y1="631.95" x2="368.5" y2="631.95" stroke="#333" stroke-width="0.8"/>
<text transform="translate(364.5,634.75) scale(0.86,1)" font-size="6.6" text-anchor="end" fill="#4d4d4d" font-family='"Liberation Sans", sans-serif' stroke="#4d4d4d" stroke-width="0.18">3</text>
<line x1="366.3" y1="606.5" x2="368.5" y2="606.5" stroke="#333" stroke-width="0.8"/>
<text transform="translate(364.5,609.3) scale(0.86,1)" font-size="6.6" text-anchor="end" fill="#4d4d4d" font-family='"Liberation Sans", sans-serif' stroke="#4d4d4d" stroke-width="0.18">4</text>
<line x1="366.3" y1="581.05" x2="368.5" y2="581.05" stroke="#333" stroke-width="0.8"/>
<text transform="translate(364.5,583.85) scale(0.86,1)" font-size="6.6" text-anchor="end" fill="#4d4d4d" font-family='"Liberation Sans", sans-serif' stroke="#4d4d4d" stroke-width="0.18">5</text>
<line x1="366.3" y1="555.6" x2="368.5" y2="555.6" stroke="#333" stroke-width="0.8"/>
<text transform="translate(364.5,558.4) scale(0.86,1)" font-size="6.6" text-anchor="end" fill="#4d4d4d" font-family='"Liberation Sans", sans-serif' stroke="#4d4d4d" stroke-width="0.18">6</text>
<line x1="381.3" y1="715.5" x2="381.3" y2="717.7" stroke="#333" stroke-width="0.8"/>
<text transform="translate(381.3,723.8) scale(0.86,1)" font-size="6.6" text-anchor="middle" fill="#4d4d4d" font-family='"Liberation Sans", sans-serif' stroke="#4d4d4d" stroke-width="0.18">0</text>
<line x1="419.45" y1="715.5" x2="419.45" y2="717.7" stroke="#333" stroke-width="0.8"/>
<text transform="translate(419.45,723.8) scale(0.86,1)" font-size="6.6" text-anchor="middle" fill="#4d4d4d" font-family='"Liberation Sans", sans-serif' stroke="#4d4d4d" stroke-width="0.18">1</text>
<line x1="457.6" y1="715.5" x2="457.6" y2="717.7" stroke="#333" stroke-width="0.8"/>
<text transform="translate(457.6,723.8) scale(0.86,1)" font-size="6.6" text-anchor="middle" fill="#4d4d4d" font-family='"Liberation Sans", sans-serif' stroke="#4d4d4d" stroke-width="0.18">2</text>
<line x1="495.75" y1="715.5" x2="495.75" y2="717.7" stroke="#333" stroke-width="0.8"/>
<text transform="translate(495.75,723.8) scale(0.86,1)" font-size="6.6" text-anchor="middle" fill="#4d4d4d" font-family='"Liberation Sans", sans-serif' stroke="#4d4d4d" stroke-width="0.18">3</text>
<line x1="533.9" y1="715.5" x2="533.9" y2="717.7" stroke="#333" stroke-width="0.8"/>
<text transform="translate(533.9,723.8) scale(0.86,1)" font-size="6.6" text-anchor="middle" fill="#4d4d4d" font-family='"Liberation Sans", sans-serif' stroke="#4d4d4d" stroke-width="0.18">4</text>
<line x1="572.05" y1="715.5" x2="572.05" y2="717.7" stroke="#333" stroke-width="0.8"/>
<text transform="translate(572.05,723.8) scale(0.86,1)" font-size="6.6" text-anchor="middle" fill="#4d4d4d" font-family='"Liberation Sans", sans-serif' stroke="#4d4d4d" stroke-width="0.18">5</text>
<line x1="610.2" y1="715.5" x2="610.2" y2="717.7" stroke="#333" stroke-width="0.8"/>
<text transform="translate(610.2,723.8) scale(0.86,1)" font-size="6.6" text-anchor="middle" fill="#4d4d4d" font-family='"Liberation Sans", sans-serif' stroke="#4d4d4d" stroke-width="0.18">6</text>
<text transform="translate(496,732.6)" font-size="7.7" text-anchor="middle" fill="#1a1a1a" font-family='"Liberation Sans", sans-serif' stroke="#1a1a1a" stroke-width="0.18">Age (months)</text>
<text transform="translate(357.4,632.3) rotate(-90)" font-size="7.7" text-anchor="middle" fill="#1a1a1a" font-family='"Liberation Sans", sans-serif' stroke="#1a1a1a" stroke-width="0.18">FFM (kg)</text>
<text transform="translate(605.5,575.73)" font-size="8.6" text-anchor="middle" fill="#111" font-family='"Liberation Sans", sans-serif' stroke="#111" stroke-width="0.3">*</text>
<text transform="translate(616.9,588.53)" font-size="8.6" text-anchor="middle" fill="#111" font-family='"Liberation Sans", sans-serif' stroke="#111" stroke-width="0.3">**</text>
<rect x="631.8" y="598.5" width="43" height="67" fill="#fff" stroke="#333" stroke-width="0.9"/>
<text transform="translate(635.8,609.2)" font-size="7.6" text-anchor="start" fill="#1a1a1a" font-family='"Liberation Sans", sans-serif' stroke="#1a1a1a" stroke-width="0.18">Country</text>
<line x1="636.7" y1="619.4" x2="646.9" y2="619.4" stroke="#ff2a14" stroke-width="1.1"/>
<circle cx="641.8" cy="619.4" r="1.55" fill="#ff2a14"/>
<text transform="translate(651.8,621.55)" font-size="6.1" text-anchor="start" fill="#1a1a1a" font-family='"Liberation Sans", sans-serif' stroke="#1a1a1a" stroke-width="0.18">AUS</text>
<line x1="636.7" y1="631.45" x2="646.9" y2="631.45" stroke="#1a35ff" stroke-width="1.1"/>
<circle cx="641.8" cy="631.45" r="1.55" fill="#1a35ff"/>
<text transform="translate(651.8,633.6)" font-size="6.1" text-anchor="start" fill="#1a1a1a" font-family='"Liberation Sans", sans-serif' stroke="#1a1a1a" stroke-width="0.18">IND</text>
<line x1="636.7" y1="643.5" x2="646.9" y2="643.5" stroke="#118a11" stroke-width="1.1"/>
<circle cx="641.8" cy="643.5" r="1.55" fill="#118a11"/>
<text transform="translate(651.8,645.65)" font-size="6.1" text-anchor="start" fill="#1a1a1a" font-family='"Liberation Sans", sans-serif' stroke="#1a1a1a" stroke-width="0.18">SAF</text>
<line x1="636.7" y1="655.55" x2="646.9" y2="655.55" stroke="#000000" stroke-width="1.1"/>
<circle cx="641.8" cy="655.55" r="1.55" fill="#000000"/>
<text transform="translate(651.8,657.7)" font-size="6.1" text-anchor="start" fill="#1a1a1a" font-family='"Liberation Sans", sans-serif' stroke="#1a1a1a" stroke-width="0.18">Pooled</text>
<line x1="36.5" y1="965.6" x2="271.5" y2="965.6" stroke="#efefef" stroke-width="1"/>
<line x1="36.5" y1="949.75" x2="271.5" y2="949.75" stroke="#efefef" stroke-width="1"/>
<line x1="36.5" y1="933.9" x2="271.5" y2="933.9" stroke="#efefef" stroke-width="1"/>
<line x1="36.5" y1="918.05" x2="271.5" y2="918.05" stroke="#efefef" stroke-width="1"/>
<line x1="36.5" y1="902.2" x2="271.5" y2="902.2" stroke="#efefef" stroke-width="1"/>
<line x1="36.5" y1="886.35" x2="271.5" y2="886.35" stroke="#efefef" stroke-width="1"/>
<line x1="36.5" y1="870.5" x2="271.5" y2="870.5" stroke="#efefef" stroke-width="1"/>
<line x1="36.5" y1="854.65" x2="271.5" y2="854.65" stroke="#efefef" stroke-width="1"/>
<line x1="36.5" y1="838.8" x2="271.5" y2="838.8" stroke="#efefef" stroke-width="1"/>
<line x1="36.5" y1="822.95" x2="271.5" y2="822.95" stroke="#efefef" stroke-width="1"/>
<line x1="36.5" y1="807.1" x2="271.5" y2="807.1" stroke="#efefef" stroke-width="1"/>
<line x1="36.5" y1="791.25" x2="271.5" y2="791.25" stroke="#efefef" stroke-width="1"/>
<line x1="47.2" y1="886.03" x2="47.2" y2="884.45" stroke="#a52a2a" stroke-width="0.9"/>
<line x1="77.77" y1="869.55" x2="77.77" y2="867.96" stroke="#a52a2a" stroke-width="0.9"/>
<line x1="108.34" y1="853.07" x2="108.34" y2="851.48" stroke="#a52a2a" stroke-width="0.9"/>
<line x1="138.91" y1="838.8" x2="138.91" y2="837.22" stroke="#a52a2a" stroke-width="0.9"/>
<line x1="200.05" y1="819.78" x2="200.05" y2="818.2" stroke="#a52a2a" stroke-width="0.9"/>
<line x1="261.19" y1="804.88" x2="261.19" y2="803.3" stroke="#a52a2a" stroke-width="0.9"/>
<line x1="47.2" y1="889.84" x2="47.2" y2="888.25" stroke="#00008b" stroke-width="0.9"/>
<line x1="77.77" y1="874.3" x2="77.77" y2="872.72" stroke="#00008b" stroke-width="0.9"/>
<line x1="108.34" y1="858.45" x2="108.34" y2="856.87" stroke="#00008b" stroke-width="0.9"/>
<line x1="138.91" y1="851.48" x2="138.91" y2="849.89" stroke="#00008b" stroke-width="0.9"/>
<line x1="200.05" y1="835.63" x2="200.05" y2="834.05" stroke="#00008b" stroke-width="0.9"/>
<line x1="261.19" y1="819.46" x2="261.19" y2="817.88" stroke="#00008b" stroke-width="0.9"/>
<line x1="47.2" y1="893.96" x2="47.2" y2="892.37" stroke="#118a11" stroke-width="0.9"/>
<line x1="77.77" y1="875.25" x2="77.77" y2="873.67" stroke="#118a11" stroke-width="0.9"/>
<line x1="108.34" y1="867.01" x2="108.34" y2="865.43" stroke="#118a11" stroke-width="0.9"/>
<line x1="138.91" y1="855.92" x2="138.91" y2="854.33" stroke="#118a11" stroke-width="0.9"/>
<line x1="200.05" y1="841.34" x2="200.05" y2="839.75" stroke="#118a11" stroke-width="0.9"/>
<line x1="261.19" y1="828.81" x2="261.19" y2="827.23" stroke="#118a11" stroke-width="0.9"/>
<line x1="47.2" y1="891.9" x2="47.2" y2="890.31" stroke="#f0a010" stroke-width="0.9"/>
<line x1="77.77" y1="875.73" x2="77.77" y2="874.15" stroke="#f0a010" stroke-width="0.9"/>
<line x1="108.34" y1="861.47" x2="108.34" y2="859.88" stroke="#f0a010" stroke-width="0.9"/>
<line x1="138.91" y1="854.33" x2="138.91" y2="852.75" stroke="#f0a010" stroke-width="0.9"/>
<line x1="200.05" y1="830.08" x2="200.05" y2="828.5" stroke="#f0a010" stroke-width="0.9"/>
<line x1="261.19" y1="824.22" x2="261.19" y2="822.63" stroke="#f0a010" stroke-width="0.9"/>
<line x1="47.2" y1="890.31" x2="47.2" y2="888.73" stroke="#000000" stroke-width="0.9"/>
<line x1="77.77" y1="873.83" x2="77.77" y2="872.24" stroke="#000000" stroke-width="0.9"/>
<line x1="108.34" y1="859.56" x2="108.34" y2="857.98" stroke="#000000" stroke-width="0.9"/>
<line x1="138.91" y1="850.53" x2="138.91" y2="848.94" stroke="#000000" stroke-width="0.9"/>
<line x1="200.05" y1="830.24" x2="200.05" y2="828.66" stroke="#000000" stroke-width="0.9"/>
<line x1="261.19" y1="817.09" x2="261.19" y2="815.5" stroke="#000000" stroke-width="0.9"/>
<polyline points="47.2,885.24 77.77,868.76 108.34,852.27 138.91,838.01 200.05,818.99 261.19,804.09" fill="none" stroke="#a52a2a" stroke-width="1.3" stroke-linejoin="round"/>
<polyline points="47.2,889.04 77.77,873.51 108.34,857.66 138.91,850.69 200.05,834.84 261.19,818.67" fill="none" stroke="#00008b" stroke-width="1.3" stroke-linejoin="round"/>
<polyline points="47.2,893.17 77.77,874.46 108.34,866.22 138.91,855.13 200.05,840.54 261.19,828.02" fill="none" stroke="#118a11" stroke-width="1.3" stroke-linejoin="round"/>
<polyline points="47.2,891.11 77.77,874.94 108.34,860.67 138.91,853.54 200.05,829.29 261.19,823.43" fill="none" stroke="#f0a010" stroke-width="1.3" stroke-linejoin="round"/>
<polyline points="47.2,889.52 77.77,873.04 108.34,858.77 138.91,849.74 200.05,829.45 261.19,816.29" fill="none" stroke="#000000" stroke-width="1.3" stroke-linejoin="round"/>
<circle cx="47.2" cy="885.24" r="1.75" fill="#a52a2a"/>
<circle cx="77.77" cy="868.76" r="1.75" fill="#a52a2a"/>
<circle cx="108.34" cy="852.27" r="1.75" fill="#a52a2a"/>
<circle cx="138.91" cy="838.01" r="1.75" fill="#a52a2a"/>
<circle cx="200.05" cy="818.99" r="1.75" fill="#a52a2a"/>
<circle cx="261.19" cy="804.09" r="1.75" fill="#a52a2a"/>
<circle cx="47.2" cy="889.04" r="1.75" fill="#00008b"/>
<circle cx="77.77" cy="873.51" r="1.75" fill="#00008b"/>
<circle cx="108.34" cy="857.66" r="1.75" fill="#00008b"/>
<circle cx="138.91" cy="850.69" r="1.75" fill="#00008b"/>
<circle cx="200.05" cy="834.84" r="1.75" fill="#00008b"/>
<circle cx="261.19" cy="818.67" r="1.75" fill="#00008b"/>
<circle cx="47.2" cy="893.17" r="1.75" fill="#118a11"/>
<circle cx="77.77" cy="874.46" r="1.75" fill="#118a11"/>
<circle cx="108.34" cy="866.22" r="1.75" fill="#118a11"/>
<circle cx="138.91" cy="855.13" r="1.75" fill="#118a11"/>
<circle cx="200.05" cy="840.54" r="1.75" fill="#118a11"/>
<circle cx="261.19" cy="828.02" r="1.75" fill="#118a11"/>
<circle cx="47.2" cy="891.11" r="1.75" fill="#f0a010"/>
<circle cx="77.77" cy="874.94" r="1.75" fill="#f0a010"/>
<circle cx="108.34" cy="860.67" r="1.75" fill="#f0a010"/>
<circle cx="138.91" cy="853.54" r="1.75" fill="#f0a010"/>
<circle cx="200.05" cy="829.29" r="1.75" fill="#f0a010"/>
<circle cx="261.19" cy="823.43" r="1.75" fill="#f0a010"/>
<circle cx="47.2" cy="889.52" r="1.75" fill="#000000"/>
<circle cx="77.77" cy="873.04" r="1.75" fill="#000000"/>
<circle cx="108.34" cy="858.77" r="1.75" fill="#000000"/>
<circle cx="138.91" cy="849.74" r="1.75" fill="#000000"/>
<circle cx="200.05" cy="829.45" r="1.75" fill="#000000"/>
<circle cx="261.19" cy="816.29" r="1.75" fill="#000000"/>
<rect x="36.5" y="783.5" width="235" height="190" fill="none" stroke="#c6c6c6" stroke-width="1.5"/>
<line x1="34.3" y1="965.6" x2="36.5" y2="965.6" stroke="#333" stroke-width="0.8"/>
<text transform="translate(32.5,968.4) scale(1.1,1)" font-size="6.1" text-anchor="end" fill="#4d4d4d" font-family='"Liberation Sans", sans-serif' stroke="#4d4d4d" stroke-width="0.18">0</text>
<line x1="34.3" y1="949.75" x2="36.5" y2="949.75" stroke="#333" stroke-width="0.8"/>
<text transform="translate(32.5,952.55) scale(1.1,1)" font-size="6.1" text-anchor="end" fill="#4d4d4d" font-family='"Liberation Sans", sans-serif' stroke="#4d4d4d" stroke-width="0.18">1</text>
<line x1="34.3" y1="933.9" x2="36.5" y2="933.9" stroke="#333" stroke-width="0.8"/>
<text transform="translate(32.5,936.7) scale(1.1,1)" font-size="6.1" text-anchor="end" fill="#4d4d4d" font-family='"Liberation Sans", sans-serif' stroke="#4d4d4d" stroke-width="0.18">2</text>
<line x1="34.3" y1="918.05" x2="36.5" y2="918.05" stroke="#333" stroke-width="0.8"/>
<text transform="translate(32.5,920.85) scale(1.1,1)" font-size="6.1" text-anchor="end" fill="#4d4d4d" font-family='"Liberation Sans", sans-serif' stroke="#4d4d4d" stroke-width="0.18">3</text>
<line x1="34.3" y1="902.2" x2="36.5" y2="902.2" stroke="#333" stroke-width="0.8"/>
<text transform="translate(32.5,905) scale(1.1,1)" font-size="6.1" text-anchor="end" fill="#4d4d4d" font-family='"Liberation Sans", sans-serif' stroke="#4d4d4d" stroke-width="0.18">4</text>
<line x1="34.3" y1="886.35" x2="36.5" y2="886.35" stroke="#333" stroke-width="0.8"/>
<text transform="translate(32.5,889.15) scale(1.1,1)" font-size="6.1" text-anchor="end" fill="#4d4d4d" font-family='"Liberation Sans", sans-serif' stroke="#4d4d4d" stroke-width="0.18">5</text>
<line x1="34.3" y1="870.5" x2="36.5" y2="870.5" stroke="#333" stroke-width="0.8"/>
<text transform="translate(32.5,873.3) scale(1.1,1)" font-size="6.1" text-anchor="end" fill="#4d4d4d" font-family='"Liberation Sans", sans-serif' stroke="#4d4d4d" stroke-width="0.18">6</text>
<line x1="34.3" y1="854.65" x2="36.5" y2="854.65" stroke="#333" stroke-width="0.8"/>
<text transform="translate(32.5,857.45) scale(1.1,1)" font-size="6.1" text-anchor="end" fill="#4d4d4d" font-family='"Liberation Sans", sans-serif' stroke="#4d4d4d" stroke-width="0.18">7</text>
<line x1="34.3" y1="838.8" x2="36.5" y2="838.8" stroke="#333" stroke-width="0.8"/>
<text transform="translate(32.5,841.6) scale(1.1,1)" font-size="6.1" text-anchor="end" fill="#4d4d4d" font-family='"Liberation Sans", sans-serif' stroke="#4d4d4d" stroke-width="0.18">8</text>
<line x1="34.3" y1="822.95" x2="36.5" y2="822.95" stroke="#333" stroke-width="0.8"/>
<text transform="translate(32.5,825.75) scale(1.1,1)" font-size="6.1" text-anchor="end" fill="#4d4d4d" font-family='"Liberation Sans", sans-serif' stroke="#4d4d4d" stroke-width="0.18">9</text>
<line x1="34.3" y1="807.1" x2="36.5" y2="807.1" stroke="#333" stroke-width="0.8"/>
<text transform="translate(32.5,809.9) scale(1.1,1)" font-size="6.1" text-anchor="end" fill="#4d4d4d" font-family='"Liberation Sans", sans-serif' stroke="#4d4d4d" stroke-width="0.18">10</text>
<line x1="34.3" y1="791.25" x2="36.5" y2="791.25" stroke="#333" stroke-width="0.8"/>
<text transform="translate(32.5,794.05) scale(1.1,1)" font-size="6.1" text-anchor="end" fill="#4d4d4d" font-family='"Liberation Sans", sans-serif' stroke="#4d4d4d" stroke-width="0.18">11</text>
<line x1="47.2" y1="973.5" x2="47.2" y2="975.7" stroke="#333" stroke-width="0.8"/>
<text transform="translate(47.2,981.8)" font-size="6" text-anchor="middle" fill="#4d4d4d" font-family='"Liberation Sans", sans-serif' stroke="#4d4d4d" stroke-width="0.18">3</text>
<line x1="57.39" y1="973.5" x2="57.39" y2="975.7" stroke="#333" stroke-width="0.8"/>
<text transform="translate(57.39,981.8)" font-size="6" text-anchor="middle" fill="#4d4d4d" font-family='"Liberation Sans", sans-serif' stroke="#4d4d4d" stroke-width="0.18">4</text>
<line x1="67.58" y1="973.5" x2="67.58" y2="975.7" stroke="#333" stroke-width="0.8"/>
<text transform="translate(67.58,981.8)" font-size="6" text-anchor="middle" fill="#4d4d4d" font-family='"Liberation Sans", sans-serif' stroke="#4d4d4d" stroke-width="0.18">5</text>
<line x1="77.77" y1="973.5" x2="77.77" y2="975.7" stroke="#333" stroke-width="0.8"/>
<text transform="translate(77.77,981.8)" font-size="6" text-anchor="middle" fill="#4d4d4d" font-family='"Liberation Sans", sans-serif' stroke="#4d4d4d" stroke-width="0.18">6</text>
<line x1="87.96" y1="973.5" x2="87.96" y2="975.7" stroke="#333" stroke-width="0.8"/>
<text transform="translate(87.96,981.8)" font-size="6" text-anchor="middle" fill="#4d4d4d" font-family='"Liberation Sans", sans-serif' stroke="#4d4d4d" stroke-width="0.18">7</text>
<line x1="98.15" y1="973.5" x2="98.15" y2="975.7" stroke="#333" stroke-width="0.8"/>
<text transform="translate(98.15,981.8)" font-size="6" text-anchor="middle" fill="#4d4d4d" font-family='"Liberation Sans", sans-serif' stroke="#4d4d4d" stroke-width="0.18">8</text>
<line x1="108.34" y1="973.5" x2="108.34" y2="975.7" stroke="#333" stroke-width="0.8"/>
<text transform="translate(108.34,981.8)" font-size="6" text-anchor="middle" fill="#4d4d4d" font-family='"Liberation Sans", sans-serif' stroke="#4d4d4d" stroke-width="0.18">9</text>
<line x1="118.53" y1="973.5" x2="118.53" y2="975.7" stroke="#333" stroke-width="0.8"/>
<text transform="translate(118.53,981.8)" font-size="6" text-anchor="middle" fill="#4d4d4d" font-family='"Liberation Sans", sans-serif' stroke="#4d4d4d" stroke-width="0.18">10</text>
<line x1="128.72" y1="973.5" x2="128.72" y2="975.7" stroke="#333" stroke-width="0.8"/>
<text transform="translate(128.72,981.8)" font-size="6" text-anchor="middle" fill="#4d4d4d" font-family='"Liberation Sans", sans-serif' stroke="#4d4d4d" stroke-width="0.18">11</text>
<line x1="138.91" y1="973.5" x2="138.91" y2="975.7" stroke="#333" stroke-width="0.8"/>
<text transform="translate(138.91,981.8)" font-size="6" text-anchor="middle" fill="#4d4d4d" font-family='"Liberation Sans", sans-serif' stroke="#4d4d4d" stroke-width="0.18">12</text>
<line x1="149.1" y1="973.5" x2="149.1" y2="975.7" stroke="#333" stroke-width="0.8"/>
<text transform="translate(149.1,981.8)" font-size="6" text-anchor="middle" fill="#4d4d4d" font-family='"Liberation Sans", sans-serif' stroke="#4d4d4d" stroke-width="0.18">13</text>
<line x1="159.29" y1="973.5" x2="159.29" y2="975.7" stroke="#333" stroke-width="0.8"/>
<text transform="translate(159.29,981.8)" font-size="6" text-anchor="middle" fill="#4d4d4d" font-family='"Liberation Sans", sans-serif' stroke="#4d4d4d" stroke-width="0.18">14</text>
<line x1="169.48" y1="973.5" x2="169.48" y2="975.7" stroke="#333" stroke-width="0.8"/>
<text transform="translate(169.48,981.8)" font-size="6" text-anchor="middle" fill="#4d4d4d" font-family='"Liberation Sans", sans-serif' stroke="#4d4d4d" stroke-width="0.18">15</text>
<line x1="179.67" y1="973.5" x2="179.67" y2="975.7" stroke="#333" stroke-width="0.8"/>
<text transform="translate(179.67,981.8)" font-size="6" text-anchor="middle" fill="#4d4d4d" font-family='"Liberation Sans", sans-serif' stroke="#4d4d4d" stroke-width="0.18">16</text>
<line x1="189.86" y1="973.5" x2="189.86" y2="975.7" stroke="#333" stroke-width="0.8"/>
<text transform="translate(189.86,981.8)" font-size="6" text-anchor="middle" fill="#4d4d4d" font-family='"Liberation Sans", sans-serif' stroke="#4d4d4d" stroke-width="0.18">17</text>
<line x1="200.05" y1="973.5" x2="200.05" y2="975.7" stroke="#333" stroke-width="0.8"/>
<text transform="translate(200.05,981.8)" font-size="6" text-anchor="middle" fill="#4d4d4d" font-family='"Liberation Sans", sans-serif' stroke="#4d4d4d" stroke-width="0.18">18</text>
<line x1="210.24" y1="973.5" x2="210.24" y2="975.7" stroke="#333" stroke-width="0.8"/>
<text transform="translate(210.24,981.8)" font-size="6" text-anchor="middle" fill="#4d4d4d" font-family='"Liberation Sans", sans-serif' stroke="#4d4d4d" stroke-width="0.18">19</text>
<line x1="220.43" y1="973.5" x2="220.43" y2="975.7" stroke="#333" stroke-width="0.8"/>
<text transform="translate(220.43,981.8)" font-size="6" text-anchor="middle" fill="#4d4d4d" font-family='"Liberation Sans", sans-serif' stroke="#4d4d4d" stroke-width="0.18">20</text>
<line x1="230.62" y1="973.5" x2="230.62" y2="975.7" stroke="#333" stroke-width="0.8"/>
<text transform="translate(230.62,981.8)" font-size="6" text-anchor="middle" fill="#4d4d4d" font-family='"Liberation Sans", sans-serif' stroke="#4d4d4d" stroke-width="0.18">21</text>
<line x1="240.81" y1="973.5" x2="240.81" y2="975.7" stroke="#333" stroke-width="0.8"/>
<text transform="translate(240.81,981.8)" font-size="6" text-anchor="middle" fill="#4d4d4d" font-family='"Liberation Sans", sans-serif' stroke="#4d4d4d" stroke-width="0.18">22</text>
<line x1="251" y1="973.5" x2="251" y2="975.7" stroke="#333" stroke-width="0.8"/>
<text transform="translate(251,981.8)" font-size="6" text-anchor="middle" fill="#4d4d4d" font-family='"Liberation Sans", sans-serif' stroke="#4d4d4d" stroke-width="0.18">23</text>
<line x1="261.19" y1="973.5" x2="261.19" y2="975.7" stroke="#333" stroke-width="0.8"/>
<text transform="translate(261.19,981.8)" font-size="6" text-anchor="middle" fill="#4d4d4d" font-family='"Liberation Sans", sans-serif' stroke="#4d4d4d" stroke-width="0.18">24</text>
<text transform="translate(154,990.6) scale(1.12,1)" font-size="7.7" text-anchor="middle" fill="#1a1a1a" font-family='"Liberation Sans", sans-serif' stroke="#1a1a1a" stroke-width="0.18">Age (months)</text>
<text transform="translate(20,878.5) scale(1.12,1) rotate(-90)" font-size="7.7" text-anchor="middle" fill="#1a1a1a" font-family='"Liberation Sans", sans-serif' stroke="#1a1a1a" stroke-width="0.18">FFM (kg)</text>
<text transform="translate(261.1,803.33) scale(1.12,1)" font-size="8.6" text-anchor="middle" fill="#111" font-family='"Liberation Sans", sans-serif' stroke="#111" stroke-width="0.3">***</text>
<text transform="translate(271,833.23) scale(1.12,1)" font-size="8.6" text-anchor="middle" fill="#111" font-family='"Liberation Sans", sans-serif' stroke="#111" stroke-width="0.3">***</text>
<rect x="281" y="839" width="50" height="79" fill="#fff" stroke="#333" stroke-width="0.9"/>
<text transform="translate(286.1,849.7) scale(1.12,1)" font-size="7.6" text-anchor="start" fill="#1a1a1a" font-family='"Liberation Sans", sans-serif' stroke="#1a1a1a" stroke-width="0.18">Country</text>
<line x1="287.1" y1="859.9" x2="298.3" y2="859.9" stroke="#a52a2a" stroke-width="1.1"/>
<circle cx="292.7" cy="859.9" r="1.55" fill="#a52a2a"/>
<text transform="translate(304.2,862.05) scale(1.12,1)" font-size="6.1" text-anchor="start" fill="#1a1a1a" font-family='"Liberation Sans", sans-serif' stroke="#1a1a1a" stroke-width="0.18">BRA</text>
<line x1="287.1" y1="871.95" x2="298.3" y2="871.95" stroke="#00008b" stroke-width="1.1"/>
<circle cx="292.7" cy="871.95" r="1.55" fill="#00008b"/>
<text transform="translate(304.2,874.1) scale(1.12,1)" font-size="6.1" text-anchor="start" fill="#1a1a1a" font-family='"Liberation Sans", sans-serif' stroke="#1a1a1a" stroke-width="0.18">PAK</text>
<line x1="287.1" y1="884" x2="298.3" y2="884" stroke="#118a11" stroke-width="1.1"/>
<circle cx="292.7" cy="884" r="1.55" fill="#118a11"/>
<text transform="translate(304.2,886.15) scale(1.12,1)" font-size="6.1" text-anchor="start" fill="#1a1a1a" font-family='"Liberation Sans", sans-serif' stroke="#1a1a1a" stroke-width="0.18">SAF</text>
<line x1="287.1" y1="896.05" x2="298.3" y2="896.05" stroke="#f0a010" stroke-width="1.1"/>
<circle cx="292.7" cy="896.05" r="1.55" fill="#f0a010"/>
<text transform="translate(304.2,898.2) scale(1.12,1)" font-size="6.1" text-anchor="start" fill="#1a1a1a" font-family='"Liberation Sans", sans-serif' stroke="#1a1a1a" stroke-width="0.18">SRI</text>
<line x1="287.1" y1="908.1" x2="298.3" y2="908.1" stroke="#000000" stroke-width="1.1"/>
<circle cx="292.7" cy="908.1" r="1.55" fill="#000000"/>
<text transform="translate(304.2,910.25) scale(1.12,1)" font-size="6.1" text-anchor="start" fill="#1a1a1a" font-family='"Liberation Sans", sans-serif' stroke="#1a1a1a" stroke-width="0.18">Pooled</text>
<line x1="394.5" y1="965.6" x2="600.5" y2="965.6" stroke="#efefef" stroke-width="1"/>
<line x1="394.5" y1="949.75" x2="600.5" y2="949.75" stroke="#efefef" stroke-width="1"/>
<line x1="394.5" y1="933.9" x2="600.5" y2="933.9" stroke="#efefef" stroke-width="1"/>
<line x1="394.5" y1="918.05" x2="600.5" y2="918.05" stroke="#efefef" stroke-width="1"/>
<line x1="394.5" y1="902.2" x2="600.5" y2="902.2" stroke="#efefef" stroke-width="1"/>
<line x1="394.5" y1="886.35" x2="600.5" y2="886.35" stroke="#efefef" stroke-width="1"/>
<line x1="394.5" y1="870.5" x2="600.5" y2="870.5" stroke="#efefef" stroke-width="1"/>
<line x1="394.5" y1="854.65" x2="600.5" y2="854.65" stroke="#efefef" stroke-width="1"/>
<line x1="394.5" y1="838.8" x2="600.5" y2="838.8" stroke="#efefef" stroke-width="1"/>
<line x1="394.5" y1="822.95" x2="600.5" y2="822.95" stroke="#efefef" stroke-width="1"/>
<line x1="394.5" y1="807.1" x2="600.5" y2="807.1" stroke="#efefef" stroke-width="1"/>
<line x1="394.5" y1="791.25" x2="600.5" y2="791.25" stroke="#efefef" stroke-width="1"/>
<line x1="403.9" y1="892.06" x2="403.9" y2="890.47" stroke="#a52a2a" stroke-width="0.9"/>
<line x1="430.6" y1="878.9" x2="430.6" y2="877.32" stroke="#a52a2a" stroke-width="0.9"/>
<line x1="457.3" y1="862.42" x2="457.3" y2="860.83" stroke="#a52a2a" stroke-width="0.9"/>
<line x1="484" y1="848.94" x2="484" y2="847.36" stroke="#a52a2a" stroke-width="0.9"/>
<line x1="537.4" y1="830.56" x2="537.4" y2="828.97" stroke="#a52a2a" stroke-width="0.9"/>
<line x1="590.8" y1="817.72" x2="590.8" y2="816.13" stroke="#a52a2a" stroke-width="0.9"/>
<line x1="403.9" y1="896.97" x2="403.9" y2="895.38" stroke="#00008b" stroke-width="0.9"/>
<line x1="430.6" y1="884.76" x2="430.6" y2="883.18" stroke="#00008b" stroke-width="0.9"/>
<line x1="457.3" y1="870.66" x2="457.3" y2="869.07" stroke="#00008b" stroke-width="0.9"/>
<line x1="484" y1="860.2" x2="484" y2="858.61" stroke="#00008b" stroke-width="0.9"/>
<line x1="537.4" y1="844.19" x2="537.4" y2="842.6" stroke="#00008b" stroke-width="0.9"/>
<line x1="590.8" y1="829.13" x2="590.8" y2="827.55" stroke="#00008b" stroke-width="0.9"/>
<line x1="403.9" y1="900.46" x2="403.9" y2="898.87" stroke="#118a11" stroke-width="0.9"/>
<line x1="430.6" y1="885.72" x2="430.6" y2="884.13" stroke="#118a11" stroke-width="0.9"/>
<line x1="457.3" y1="875.41" x2="457.3" y2="873.83" stroke="#118a11" stroke-width="0.9"/>
<line x1="484" y1="864.95" x2="484" y2="863.37" stroke="#118a11" stroke-width="0.9"/>
<line x1="537.4" y1="851.64" x2="537.4" y2="850.05" stroke="#118a11" stroke-width="0.9"/>
<line x1="590.8" y1="838.96" x2="590.8" y2="837.37" stroke="#118a11" stroke-width="0.9"/>
<line x1="403.9" y1="898.24" x2="403.9" y2="896.65" stroke="#f0a010" stroke-width="0.9"/>
<line x1="430.6" y1="884.76" x2="430.6" y2="883.18" stroke="#f0a010" stroke-width="0.9"/>
<line x1="457.3" y1="868.12" x2="457.3" y2="866.54" stroke="#f0a010" stroke-width="0.9"/>
<line x1="484" y1="861.94" x2="484" y2="860.36" stroke="#f0a010" stroke-width="0.9"/>
<line x1="537.4" y1="837.85" x2="537.4" y2="836.26" stroke="#f0a010" stroke-width="0.9"/>
<line x1="590.8" y1="825.96" x2="590.8" y2="824.38" stroke="#f0a010" stroke-width="0.9"/>
<line x1="403.9" y1="896.34" x2="403.9" y2="894.75" stroke="#000000" stroke-width="0.9"/>
<line x1="430.6" y1="883.34" x2="430.6" y2="881.75" stroke="#000000" stroke-width="0.9"/>
<line x1="457.3" y1="868.91" x2="457.3" y2="867.33" stroke="#000000" stroke-width="0.9"/>
<line x1="484" y1="858.93" x2="484" y2="857.34" stroke="#000000" stroke-width="0.9"/>
<line x1="537.4" y1="839.12" x2="537.4" y2="837.53" stroke="#000000" stroke-width="0.9"/>
<line x1="590.8" y1="827.23" x2="590.8" y2="825.64" stroke="#000000" stroke-width="0.9"/>
<polyline points="403.9,891.26 430.6,878.11 457.3,861.62 484,848.15 537.4,829.77 590.8,816.93" fill="none" stroke="#a52a2a" stroke-width="1.3" stroke-linejoin="round"/>
<polyline points="403.9,896.18 430.6,883.97 457.3,869.87 484,859.4 537.4,843.4 590.8,828.34" fill="none" stroke="#00008b" stroke-width="1.3" stroke-linejoin="round"/>
<polyline points="403.9,899.66 430.6,884.92 457.3,874.62 484,864.16 537.4,850.85 590.8,838.17" fill="none" stroke="#118a11" stroke-width="1.3" stroke-linejoin="round"/>
<polyline points="403.9,897.45 430.6,883.97 457.3,867.33 484,861.15 537.4,837.06 590.8,825.17" fill="none" stroke="#f0a010" stroke-width="1.3" stroke-linejoin="round"/>
<polyline points="403.9,895.54 430.6,882.55 457.3,868.12 484,858.14 537.4,838.32 590.8,826.44" fill="none" stroke="#000000" stroke-width="1.3" stroke-linejoin="round"/>
<circle cx="403.9" cy="891.26" r="1.75" fill="#a52a2a"/>
<circle cx="430.6" cy="878.11" r="1.75" fill="#a52a2a"/>
<circle cx="457.3" cy="861.62" r="1.75" fill="#a52a2a"/>
<circle cx="484" cy="848.15" r="1.75" fill="#a52a2a"/>
<circle cx="537.4" cy="829.77" r="1.75" fill="#a52a2a"/>
<circle cx="590.8" cy="816.93" r="1.75" fill="#a52a2a"/>
<circle cx="403.9" cy="896.18" r="1.75" fill="#00008b"/>
<circle cx="430.6" cy="883.97" r="1.75" fill="#00008b"/>
<circle cx="457.3" cy="869.87" r="1.75" fill="#00008b"/>
<circle cx="484" cy="859.4" r="1.75" fill="#00008b"/>
<circle cx="537.4" cy="843.4" r="1.75" fill="#00008b"/>
<circle cx="590.8" cy="828.34" r="1.75" fill="#00008b"/>
<circle cx="403.9" cy="899.66" r="1.75" fill="#118a11"/>
<circle cx="430.6" cy="884.92" r="1.75" fill="#118a11"/>
<circle cx="457.3" cy="874.62" r="1.75" fill="#118a11"/>
<circle cx="484" cy="864.16" r="1.75" fill="#118a11"/>
<circle cx="537.4" cy="850.85" r="1.75" fill="#118a11"/>
<circle cx="590.8" cy="838.17" r="1.75" fill="#118a11"/>
<circle cx="403.9" cy="897.45" r="1.75" fill="#f0a010"/>
<circle cx="430.6" cy="883.97" r="1.75" fill="#f0a010"/>
<circle cx="457.3" cy="867.33" r="1.75" fill="#f0a010"/>
<circle cx="484" cy="861.15" r="1.75" fill="#f0a010"/>
<circle cx="537.4" cy="837.06" r="1.75" fill="#f0a010"/>
<circle cx="590.8" cy="825.17" r="1.75" fill="#f0a010"/>
<circle cx="403.9" cy="895.54" r="1.75" fill="#000000"/>
<circle cx="430.6" cy="882.55" r="1.75" fill="#000000"/>
<circle cx="457.3" cy="868.12" r="1.75" fill="#000000"/>
<circle cx="484" cy="858.14" r="1.75" fill="#000000"/>
<circle cx="537.4" cy="838.32" r="1.75" fill="#000000"/>
<circle cx="590.8" cy="826.44" r="1.75" fill="#000000"/>
<rect x="394.5" y="783.5" width="206" height="190" fill="none" stroke="#c6c6c6" stroke-width="1.5"/>
<line x1="392.3" y1="965.6" x2="394.5" y2="965.6" stroke="#333" stroke-width="0.8"/>
<text transform="translate(390.5,968.4) scale(1.1,1)" font-size="6.1" text-anchor="end" fill="#4d4d4d" font-family='"Liberation Sans", sans-serif' stroke="#4d4d4d" stroke-width="0.18">0</text>
<line x1="392.3" y1="949.75" x2="394.5" y2="949.75" stroke="#333" stroke-width="0.8"/>
<text transform="translate(390.5,952.55) scale(1.1,1)" font-size="6.1" text-anchor="end" fill="#4d4d4d" font-family='"Liberation Sans", sans-serif' stroke="#4d4d4d" stroke-width="0.18">1</text>
<line x1="392.3" y1="933.9" x2="394.5" y2="933.9" stroke="#333" stroke-width="0.8"/>
<text transform="translate(390.5,936.7) scale(1.1,1)" font-size="6.1" text-anchor="end" fill="#4d4d4d" font-family='"Liberation Sans", sans-serif' stroke="#4d4d4d" stroke-width="0.18">2</text>
<line x1="392.3" y1="918.05" x2="394.5" y2="918.05" stroke="#333" stroke-width="0.8"/>
<text transform="translate(390.5,920.85) scale(1.1,1)" font-size="6.1" text-anchor="end" fill="#4d4d4d" font-family='"Liberation Sans", sans-serif' stroke="#4d4d4d" stroke-width="0.18">3</text>
<line x1="392.3" y1="902.2" x2="394.5" y2="902.2" stroke="#333" stroke-width="0.8"/>
<text transform="translate(390.5,905) scale(1.1,1)" font-size="6.1" text-anchor="end" fill="#4d4d4d" font-family='"Liberation Sans", sans-serif' stroke="#4d4d4d" stroke-width="0.18">4</text>
<line x1="392.3" y1="886.35" x2="394.5" y2="886.35" stroke="#333" stroke-width="0.8"/>
<text transform="translate(390.5,889.15) scale(1.1,1)" font-size="6.1" text-anchor="end" fill="#4d4d4d" font-family='"Liberation Sans", sans-serif' stroke="#4d4d4d" stroke-width="0.18">5</text>
<line x1="392.3" y1="870.5" x2="394.5" y2="870.5" stroke="#333" stroke-width="0.8"/>
<text transform="translate(390.5,873.3) scale(1.1,1)" font-size="6.1" text-anchor="end" fill="#4d4d4d" font-family='"Liberation Sans", sans-serif' stroke="#4d4d4d" stroke-width="0.18">6</text>
<line x1="392.3" y1="854.65" x2="394.5" y2="854.65" stroke="#333" stroke-width="0.8"/>
<text transform="translate(390.5,857.45) scale(1.1,1)" font-size="6.1" text-anchor="end" fill="#4d4d4d" font-family='"Liberation Sans", sans-serif' stroke="#4d4d4d" stroke-width="0.18">7</text>
<line x1="392.3" y1="838.8" x2="394.5" y2="838.8" stroke="#333" stroke-width="0.8"/>
<text transform="translate(390.5,841.6) scale(1.1,1)" font-size="6.1" text-anchor="end" fill="#4d4d4d" font-family='"Liberation Sans", sans-serif' stroke="#4d4d4d" stroke-width="0.18">8</text>
<line x1="392.3" y1="822.95" x2="394.5" y2="822.95" stroke="#333" stroke-width="0.8"/>
<text transform="translate(390.5,825.75) scale(1.1,1)" font-size="6.1" text-anchor="end" fill="#4d4d4d" font-family='"Liberation Sans", sans-serif' stroke="#4d4d4d" stroke-width="0.18">9</text>
<line x1="392.3" y1="807.1" x2="394.5" y2="807.1" stroke="#333" stroke-width="0.8"/>
<text transform="translate(390.5,809.9) scale(1.1,1)" font-size="6.1" text-anchor="end" fill="#4d4d4d" font-family='"Liberation Sans", sans-serif' stroke="#4d4d4d" stroke-width="0.18">10</text>
<line x1="392.3" y1="791.25" x2="394.5" y2="791.25" stroke="#333" stroke-width="0.8"/>
<text transform="translate(390.5,794.05) scale(1.1,1)" font-size="6.1" text-anchor="end" fill="#4d4d4d" font-family='"Liberation Sans", sans-serif' stroke="#4d4d4d" stroke-width="0.18">11</text>
<line x1="403.9" y1="973.5" x2="403.9" y2="975.7" stroke="#333" stroke-width="0.8"/>
<text transform="translate(403.9,981.8)" font-size="6" text-anchor="middle" fill="#4d4d4d" font-family='"Liberation Sans", sans-serif' stroke="#4d4d4d" stroke-width="0.18">3</text>
<line x1="412.8" y1="973.5" x2="412.8" y2="975.7" stroke="#333" stroke-width="0.8"/>
<text transform="translate(412.8,981.8)" font-size="6" text-anchor="middle" fill="#4d4d4d" font-family='"Liberation Sans", sans-serif' stroke="#4d4d4d" stroke-width="0.18">4</text>
<line x1="421.7" y1="973.5" x2="421.7" y2="975.7" stroke="#333" stroke-width="0.8"/>
<text transform="translate(421.7,981.8)" font-size="6" text-anchor="middle" fill="#4d4d4d" font-family='"Liberation Sans", sans-serif' stroke="#4d4d4d" stroke-width="0.18">5</text>
<line x1="430.6" y1="973.5" x2="430.6" y2="975.7" stroke="#333" stroke-width="0.8"/>
<text transform="translate(430.6,981.8)" font-size="6" text-anchor="middle" fill="#4d4d4d" font-family='"Liberation Sans", sans-serif' stroke="#4d4d4d" stroke-width="0.18">6</text>
<line x1="439.5" y1="973.5" x2="439.5" y2="975.7" stroke="#333" stroke-width="0.8"/>
<text transform="translate(439.5,981.8)" font-size="6" text-anchor="middle" fill="#4d4d4d" font-family='"Liberation Sans", sans-serif' stroke="#4d4d4d" stroke-width="0.18">7</text>
<line x1="448.4" y1="973.5" x2="448.4" y2="975.7" stroke="#333" stroke-width="0.8"/>
<text transform="translate(448.4,981.8)" font-size="6" text-anchor="middle" fill="#4d4d4d" font-family='"Liberation Sans", sans-serif' stroke="#4d4d4d" stroke-width="0.18">8</text>
<line x1="457.3" y1="973.5" x2="457.3" y2="975.7" stroke="#333" stroke-width="0.8"/>
<text transform="translate(457.3,981.8)" font-size="6" text-anchor="middle" fill="#4d4d4d" font-family='"Liberation Sans", sans-serif' stroke="#4d4d4d" stroke-width="0.18">9</text>
<line x1="466.2" y1="973.5" x2="466.2" y2="975.7" stroke="#333" stroke-width="0.8"/>
<text transform="translate(466.2,981.8)" font-size="6" text-anchor="middle" fill="#4d4d4d" font-family='"Liberation Sans", sans-serif' stroke="#4d4d4d" stroke-width="0.18">10</text>
<line x1="475.1" y1="973.5" x2="475.1" y2="975.7" stroke="#333" stroke-width="0.8"/>
<text transform="translate(475.1,981.8)" font-size="6" text-anchor="middle" fill="#4d4d4d" font-family='"Liberation Sans", sans-serif' stroke="#4d4d4d" stroke-width="0.18">11</text>
<line x1="484" y1="973.5" x2="484" y2="975.7" stroke="#333" stroke-width="0.8"/>
<text transform="translate(484,981.8)" font-size="6" text-anchor="middle" fill="#4d4d4d" font-family='"Liberation Sans", sans-serif' stroke="#4d4d4d" stroke-width="0.18">12</text>
<line x1="492.9" y1="973.5" x2="492.9" y2="975.7" stroke="#333" stroke-width="0.8"/>
<text transform="translate(492.9,981.8)" font-size="6" text-anchor="middle" fill="#4d4d4d" font-family='"Liberation Sans", sans-serif' stroke="#4d4d4d" stroke-width="0.18">13</text>
<line x1="501.8" y1="973.5" x2="501.8" y2="975.7" stroke="#333" stroke-width="0.8"/>
<text transform="translate(501.8,981.8)" font-size="6" text-anchor="middle" fill="#4d4d4d" font-family='"Liberation Sans", sans-serif' stroke="#4d4d4d" stroke-width="0.18">14</text>
<line x1="510.7" y1="973.5" x2="510.7" y2="975.7" stroke="#333" stroke-width="0.8"/>
<text transform="translate(510.7,981.8)" font-size="6" text-anchor="middle" fill="#4d4d4d" font-family='"Liberation Sans", sans-serif' stroke="#4d4d4d" stroke-width="0.18">15</text>
<line x1="519.6" y1="973.5" x2="519.6" y2="975.7" stroke="#333" stroke-width="0.8"/>
<text transform="translate(519.6,981.8)" font-size="6" text-anchor="middle" fill="#4d4d4d" font-family='"Liberation Sans", sans-serif' stroke="#4d4d4d" stroke-width="0.18">16</text>
<line x1="528.5" y1="973.5" x2="528.5" y2="975.7" stroke="#333" stroke-width="0.8"/>
<text transform="translate(528.5,981.8)" font-size="6" text-anchor="middle" fill="#4d4d4d" font-family='"Liberation Sans", sans-serif' stroke="#4d4d4d" stroke-width="0.18">17</text>
<line x1="537.4" y1="973.5" x2="537.4" y2="975.7" stroke="#333" stroke-width="0.8"/>
<text transform="translate(537.4,981.8)" font-size="6" text-anchor="middle" fill="#4d4d4d" font-family='"Liberation Sans", sans-serif' stroke="#4d4d4d" stroke-width="0.18">18</text>
<line x1="546.3" y1="973.5" x2="546.3" y2="975.7" stroke="#333" stroke-width="0.8"/>
<text transform="translate(546.3,981.8)" font-size="6" text-anchor="middle" fill="#4d4d4d" font-family='"Liberation Sans", sans-serif' stroke="#4d4d4d" stroke-width="0.18">19</text>
<line x1="555.2" y1="973.5" x2="555.2" y2="975.7" stroke="#333" stroke-width="0.8"/>
<text transform="translate(555.2,981.8)" font-size="6" text-anchor="middle" fill="#4d4d4d" font-family='"Liberation Sans", sans-serif' stroke="#4d4d4d" stroke-width="0.18">20</text>
<line x1="564.1" y1="973.5" x2="564.1" y2="975.7" stroke="#333" stroke-width="0.8"/>
<text transform="translate(564.1,981.8)" font-size="6" text-anchor="middle" fill="#4d4d4d" font-family='"Liberation Sans", sans-serif' stroke="#4d4d4d" stroke-width="0.18">21</text>
<line x1="573" y1="973.5" x2="573" y2="975.7" stroke="#333" stroke-width="0.8"/>
<text transform="translate(573,981.8)" font-size="6" text-anchor="middle" fill="#4d4d4d" font-family='"Liberation Sans", sans-serif' stroke="#4d4d4d" stroke-width="0.18">22</text>
<line x1="581.9" y1="973.5" x2="581.9" y2="975.7" stroke="#333" stroke-width="0.8"/>
<text transform="translate(581.9,981.8)" font-size="6" text-anchor="middle" fill="#4d4d4d" font-family='"Liberation Sans", sans-serif' stroke="#4d4d4d" stroke-width="0.18">23</text>
<line x1="590.8" y1="973.5" x2="590.8" y2="975.7" stroke="#333" stroke-width="0.8"/>
<text transform="translate(590.8,981.8)" font-size="6" text-anchor="middle" fill="#4d4d4d" font-family='"Liberation Sans", sans-serif' stroke="#4d4d4d" stroke-width="0.18">24</text>
<text transform="translate(497.5,990.6) scale(1.12,1)" font-size="7.7" text-anchor="middle" fill="#1a1a1a" font-family='"Liberation Sans", sans-serif' stroke="#1a1a1a" stroke-width="0.18">Age (months)</text>
<text transform="translate(381.5,878.5) scale(1.12,1) rotate(-90)" font-size="7.7" text-anchor="middle" fill="#1a1a1a" font-family='"Liberation Sans", sans-serif' stroke="#1a1a1a" stroke-width="0.18">FFM (kg)</text>
<text transform="translate(591,815.43) scale(1.12,1)" font-size="8.6" text-anchor="middle" fill="#111" font-family='"Liberation Sans", sans-serif' stroke="#111" stroke-width="0.3">***</text>
<text transform="translate(591,837.83) scale(1.12,1)" font-size="8.6" text-anchor="middle" fill="#111" font-family='"Liberation Sans", sans-serif' stroke="#111" stroke-width="0.3">***</text>
<rect x="607.5" y="839" width="50" height="79" fill="#fff" stroke="#333" stroke-width="0.9"/>
<text transform="translate(612.6,849.7) scale(1.12,1)" font-size="7.6" text-anchor="start" fill="#1a1a1a" font-family='"Liberation Sans", sans-serif' stroke="#1a1a1a" stroke-width="0.18">Country</text>
<line x1="613.6" y1="859.9" x2="624.8" y2="859.9" stroke="#a52a2a" stroke-width="1.1"/>
<circle cx="619.2" cy="859.9" r="1.55" fill="#a52a2a"/>
<text transform="translate(630.7,862.05) scale(1.12,1)" font-size="6.1" text-anchor="start" fill="#1a1a1a" font-family='"Liberation Sans", sans-serif' stroke="#1a1a1a" stroke-width="0.18">BRA</text>
<line x1="613.6" y1="871.95" x2="624.8" y2="871.95" stroke="#00008b" stroke-width="1.1"/>
<circle cx="619.2" cy="871.95" r="1.55" fill="#00008b"/>
<text transform="translate(630.7,874.1) scale(1.12,1)" font-size="6.1" text-anchor="start" fill="#1a1a1a" font-family='"Liberation Sans", sans-serif' stroke="#1a1a1a" stroke-width="0.18">PAK</text>
<line x1="613.6" y1="884" x2="624.8" y2="884" stroke="#118a11" stroke-width="1.1"/>
<circle cx="619.2" cy="884" r="1.55" fill="#118a11"/>
<text transform="translate(630.7,886.15) scale(1.12,1)" font-size="6.1" text-anchor="start" fill="#1a1a1a" font-family='"Liberation Sans", sans-serif' stroke="#1a1a1a" stroke-width="0.18">SAF</text>
<line x1="613.6" y1="896.05" x2="624.8" y2="896.05" stroke="#f0a010" stroke-width="1.1"/>
<circle cx="619.2" cy="896.05" r="1.55" fill="#f0a010"/>
<text transform="translate(630.7,898.2) scale(1.12,1)" font-size="6.1" text-anchor="start" fill="#1a1a1a" font-family='"Liberation Sans", sans-serif' stroke="#1a1a1a" stroke-width="0.18">SRI</text>
<line x1="613.6" y1="908.1" x2="624.8" y2="908.1" stroke="#000000" stroke-width="1.1"/>
<circle cx="619.2" cy="908.1" r="1.55" fill="#000000"/>
<text transform="translate(630.7,910.25) scale(1.12,1)" font-size="6.1" text-anchor="start" fill="#1a1a1a" font-family='"Liberation Sans", sans-serif' stroke="#1a1a1a" stroke-width="0.18">Pooled</text>
<line x1="27.5" y1="1200.5" x2="283.5" y2="1200.5" stroke="#efefef" stroke-width="1"/>
<line x1="27.5" y1="1172.7" x2="283.5" y2="1172.7" stroke="#efefef" stroke-width="1"/>
<line x1="27.5" y1="1144.9" x2="283.5" y2="1144.9" stroke="#efefef" stroke-width="1"/>
<line x1="27.5" y1="1117.1" x2="283.5" y2="1117.1" stroke="#efefef" stroke-width="1"/>
<line x1="27.5" y1="1089.3" x2="283.5" y2="1089.3" stroke="#efefef" stroke-width="1"/>
<line x1="27.5" y1="1061.5" x2="283.5" y2="1061.5" stroke="#efefef" stroke-width="1"/>
<line x1="39.1" y1="1168.53" x2="39.1" y2="1164.08" stroke="#ff2a14" stroke-width="0.9"/>
<line x1="77.25" y1="1138.51" x2="77.25" y2="1132.95" stroke="#ff2a14" stroke-width="0.9"/>
<line x1="115.4" y1="1115.71" x2="115.4" y2="1107.93" stroke="#ff2a14" stroke-width="0.9"/>
<line x1="153.55" y1="1100.42" x2="153.55" y2="1092.64" stroke="#ff2a14" stroke-width="0.9"/>
<line x1="191.7" y1="1093.75" x2="191.7" y2="1078.18" stroke="#ff2a14" stroke-width="0.9"/>
<line x1="268" y1="1096.81" x2="268" y2="1086.8" stroke="#ff2a14" stroke-width="0.9"/>
<line x1="40.03" y1="1179.09" x2="40.03" y2="1173.53" stroke="#1a35ff" stroke-width="0.9"/>
<line x1="78.18" y1="1137.39" x2="78.18" y2="1131.83" stroke="#1a35ff" stroke-width="0.9"/>
<line x1="116.33" y1="1107.93" x2="116.33" y2="1100.14" stroke="#1a35ff" stroke-width="0.9"/>
<line x1="154.48" y1="1092.91" x2="154.48" y2="1085.13" stroke="#1a35ff" stroke-width="0.9"/>
<line x1="192.63" y1="1084.02" x2="192.63" y2="1071.79" stroke="#1a35ff" stroke-width="0.9"/>
<line x1="268.93" y1="1082.63" x2="268.93" y2="1072.62" stroke="#1a35ff" stroke-width="0.9"/>
<line x1="40.97" y1="1167.42" x2="40.97" y2="1162.97" stroke="#118a11" stroke-width="0.9"/>
<line x1="79.12" y1="1122.1" x2="79.12" y2="1116.54" stroke="#118a11" stroke-width="0.9"/>
<line x1="117.27" y1="1091.25" x2="117.27" y2="1083.46" stroke="#118a11" stroke-width="0.9"/>
<line x1="155.42" y1="1077.35" x2="155.42" y2="1066.23" stroke="#118a11" stroke-width="0.9"/>
<line x1="193.57" y1="1082.63" x2="193.57" y2="1069.84" stroke="#118a11" stroke-width="0.9"/>
<line x1="269.87" y1="1087.91" x2="269.87" y2="1077.9" stroke="#118a11" stroke-width="0.9"/>
<line x1="41.9" y1="1169.09" x2="41.9" y2="1166.86" stroke="#000000" stroke-width="0.9"/>
<line x1="80.05" y1="1129.33" x2="80.05" y2="1126.55" stroke="#000000" stroke-width="0.9"/>
<line x1="118.2" y1="1099.86" x2="118.2" y2="1096.53" stroke="#000000" stroke-width="0.9"/>
<line x1="156.35" y1="1088.19" x2="156.35" y2="1084.3" stroke="#000000" stroke-width="0.9"/>
<line x1="194.5" y1="1081.52" x2="194.5" y2="1077.07" stroke="#000000" stroke-width="0.9"/>
<line x1="270.8" y1="1086.52" x2="270.8" y2="1082.07" stroke="#000000" stroke-width="0.9"/>
<polyline points="39.1,1166.31 77.25,1135.73 115.4,1111.82 153.55,1096.53 191.7,1085.96 268,1091.8" fill="none" stroke="#ff2a14" stroke-width="1.3" stroke-linejoin="round"/>
<polyline points="40.03,1176.31 78.18,1134.61 116.33,1104.03 154.48,1089.02 192.63,1077.9 268.93,1077.62" fill="none" stroke="#1a35ff" stroke-width="1.3" stroke-linejoin="round"/>
<polyline points="40.97,1165.19 79.12,1119.32 117.27,1087.35 155.42,1071.79 193.57,1076.23 269.87,1082.91" fill="none" stroke="#118a11" stroke-width="1.3" stroke-linejoin="round"/>
<polyline points="41.9,1167.97 80.05,1127.94 118.2,1098.2 156.35,1086.24 194.5,1079.29 270.8,1084.3" fill="none" stroke="#000000" stroke-width="1.3" stroke-linejoin="round"/>
<circle cx="39.1" cy="1166.31" r="1.75" fill="#ff2a14"/>
<circle cx="77.25" cy="1135.73" r="1.75" fill="#ff2a14"/>
<circle cx="115.4" cy="1111.82" r="1.75" fill="#ff2a14"/>
<circle cx="153.55" cy="1096.53" r="1.75" fill="#ff2a14"/>
<circle cx="191.7" cy="1085.96" r="1.75" fill="#ff2a14"/>
<circle cx="268" cy="1091.8" r="1.75" fill="#ff2a14"/>
<circle cx="40.03" cy="1176.31" r="1.75" fill="#1a35ff"/>
<circle cx="78.18" cy="1134.61" r="1.75" fill="#1a35ff"/>
<circle cx="116.33" cy="1104.03" r="1.75" fill="#1a35ff"/>
<circle cx="154.48" cy="1089.02" r="1.75" fill="#1a35ff"/>
<circle cx="192.63" cy="1077.9" r="1.75" fill="#1a35ff"/>
<circle cx="268.93" cy="1077.62" r="1.75" fill="#1a35ff"/>
<circle cx="40.97" cy="1165.19" r="1.75" fill="#118a11"/>
<circle cx="79.12" cy="1119.32" r="1.75" fill="#118a11"/>
<circle cx="117.27" cy="1087.35" r="1.75" fill="#118a11"/>
<circle cx="155.42" cy="1071.79" r="1.75" fill="#118a11"/>
<circle cx="193.57" cy="1076.23" r="1.75" fill="#118a11"/>
<circle cx="269.87" cy="1082.91" r="1.75" fill="#118a11"/>
<circle cx="41.9" cy="1167.97" r="1.75" fill="#000000"/>
<circle cx="80.05" cy="1127.94" r="1.75" fill="#000000"/>
<circle cx="118.2" cy="1098.2" r="1.75" fill="#000000"/>
<circle cx="156.35" cy="1086.24" r="1.75" fill="#000000"/>
<circle cx="194.5" cy="1079.29" r="1.75" fill="#000000"/>
<circle cx="270.8" cy="1084.3" r="1.75" fill="#000000"/>
<rect x="27.5" y="1040.5" width="256" height="167" fill="none" stroke="#c6c6c6" stroke-width="1.5"/>
<line x1="25.3" y1="1200.5" x2="27.5" y2="1200.5" stroke="#333" stroke-width="0.8"/>
<text transform="translate(23.5,1203.3) scale(0.86,1)" font-size="6.6" text-anchor="end" fill="#4d4d4d" font-family='"Liberation Sans", sans-serif' stroke="#4d4d4d" stroke-width="0.18">0</text>
<line x1="25.3" y1="1172.7" x2="27.5" y2="1172.7" stroke="#333" stroke-width="0.8"/>
<text transform="translate(23.5,1175.5) scale(0.86,1)" font-size="6.6" text-anchor="end" fill="#4d4d4d" font-family='"Liberation Sans", sans-serif' stroke="#4d4d4d" stroke-width="0.18">1</text>
<line x1="25.3" y1="1144.9" x2="27.5" y2="1144.9" stroke="#333" stroke-width="0.8"/>
<text transform="translate(23.5,1147.7) scale(0.86,1)" font-size="6.6" text-anchor="end" fill="#4d4d4d" font-family='"Liberation Sans", sans-serif' stroke="#4d4d4d" stroke-width="0.18">2</text>
<line x1="25.3" y1="1117.1" x2="27.5" y2="1117.1" stroke="#333" stroke-width="0.8"/>
<text transform="translate(23.5,1119.9) scale(0.86,1)" font-size="6.6" text-anchor="end" fill="#4d4d4d" font-family='"Liberation Sans", sans-serif' stroke="#4d4d4d" stroke-width="0.18">3</text>
<line x1="25.3" y1="1089.3" x2="27.5" y2="1089.3" stroke="#333" stroke-width="0.8"/>
<text transform="translate(23.5,1092.1) scale(0.86,1)" font-size="6.6" text-anchor="end" fill="#4d4d4d" font-family='"Liberation Sans", sans-serif' stroke="#4d4d4d" stroke-width="0.18">4</text>
<line x1="25.3" y1="1061.5" x2="27.5" y2="1061.5" stroke="#333" stroke-width="0.8"/>
<text transform="translate(23.5,1064.3) scale(0.86,1)" font-size="6.6" text-anchor="end" fill="#4d4d4d" font-family='"Liberation Sans", sans-serif' stroke="#4d4d4d" stroke-width="0.18">5</text>
<line x1="40.5" y1="1207.5" x2="40.5" y2="1209.7" stroke="#333" stroke-width="0.8"/>
<text transform="translate(40.5,1215.8) scale(0.86,1)" font-size="6.6" text-anchor="middle" fill="#4d4d4d" font-family='"Liberation Sans", sans-serif' stroke="#4d4d4d" stroke-width="0.18">0</text>
<line x1="78.65" y1="1207.5" x2="78.65" y2="1209.7" stroke="#333" stroke-width="0.8"/>
<text transform="translate(78.65,1215.8) scale(0.86,1)" font-size="6.6" text-anchor="middle" fill="#4d4d4d" font-family='"Liberation Sans", sans-serif' stroke="#4d4d4d" stroke-width="0.18">1</text>
<line x1="116.8" y1="1207.5" x2="116.8" y2="1209.7" stroke="#333" stroke-width="0.8"/>
<text transform="translate(116.8,1215.8) scale(0.86,1)" font-size="6.6" text-anchor="middle" fill="#4d4d4d" font-family='"Liberation Sans", sans-serif' stroke="#4d4d4d" stroke-width="0.18">2</text>
<line x1="154.95" y1="1207.5" x2="154.95" y2="1209.7" stroke="#333" stroke-width="0.8"/>
<text transform="translate(154.95,1215.8) scale(0.86,1)" font-size="6.6" text-anchor="middle" fill="#4d4d4d" font-family='"Liberation Sans", sans-serif' stroke="#4d4d4d" stroke-width="0.18">3</text>
<line x1="193.1" y1="1207.5" x2="193.1" y2="1209.7" stroke="#333" stroke-width="0.8"/>
<text transform="translate(193.1,1215.8) scale(0.86,1)" font-size="6.6" text-anchor="middle" fill="#4d4d4d" font-family='"Liberation Sans", sans-serif' stroke="#4d4d4d" stroke-width="0.18">4</text>
<line x1="231.25" y1="1207.5" x2="231.25" y2="1209.7" stroke="#333" stroke-width="0.8"/>
<text transform="translate(231.25,1215.8) scale(0.86,1)" font-size="6.6" text-anchor="middle" fill="#4d4d4d" font-family='"Liberation Sans", sans-serif' stroke="#4d4d4d" stroke-width="0.18">5</text>
<line x1="269.4" y1="1207.5" x2="269.4" y2="1209.7" stroke="#333" stroke-width="0.8"/>
<text transform="translate(269.4,1215.8) scale(0.86,1)" font-size="6.6" text-anchor="middle" fill="#4d4d4d" font-family='"Liberation Sans", sans-serif' stroke="#4d4d4d" stroke-width="0.18">6</text>
<text transform="translate(155.5,1224.6)" font-size="7.7" text-anchor="middle" fill="#1a1a1a" font-family='"Liberation Sans", sans-serif' stroke="#1a1a1a" stroke-width="0.18">Age (months)</text>
<text transform="translate(16.4,1124) rotate(-90)" font-size="7.7" text-anchor="middle" fill="#1a1a1a" font-family='"Liberation Sans", sans-serif' stroke="#1a1a1a" stroke-width="0.18">FMI (kg/m^2)</text>
<rect x="291" y="1090.5" width="42.9" height="67" fill="#fff" stroke="#333" stroke-width="0.9"/>
<text transform="translate(295,1101.2)" font-size="7.6" text-anchor="start" fill="#1a1a1a" font-family='"Liberation Sans", sans-serif' stroke="#1a1a1a" stroke-width="0.18">Country</text>
<line x1="295.9" y1="1111.4" x2="306.1" y2="1111.4" stroke="#ff2a14" stroke-width="1.1"/>
<circle cx="301" cy="1111.4" r="1.55" fill="#ff2a14"/>
<text transform="translate(311,1113.55)" font-size="6.1" text-anchor="start" fill="#1a1a1a" font-family='"Liberation Sans", sans-serif' stroke="#1a1a1a" stroke-width="0.18">AUS</text>
<line x1="295.9" y1="1123.45" x2="306.1" y2="1123.45" stroke="#1a35ff" stroke-width="1.1"/>
<circle cx="301" cy="1123.45" r="1.55" fill="#1a35ff"/>
<text transform="translate(311,1125.6)" font-size="6.1" text-anchor="start" fill="#1a1a1a" font-family='"Liberation Sans", sans-serif' stroke="#1a1a1a" stroke-width="0.18">IND</text>
<line x1="295.9" y1="1135.5" x2="306.1" y2="1135.5" stroke="#118a11" stroke-width="1.1"/>
<circle cx="301" cy="1135.5" r="1.55" fill="#118a11"/>
<text transform="translate(311,1137.65)" font-size="6.1" text-anchor="start" fill="#1a1a1a" font-family='"Liberation Sans", sans-serif' stroke="#1a1a1a" stroke-width="0.18">SAF</text>
<line x1="295.9" y1="1147.55" x2="306.1" y2="1147.55" stroke="#000000" stroke-width="1.1"/>
<circle cx="301" cy="1147.55" r="1.55" fill="#000000"/>
<text transform="translate(311,1149.7)" font-size="6.1" text-anchor="start" fill="#1a1a1a" font-family='"Liberation Sans", sans-serif' stroke="#1a1a1a" stroke-width="0.18">Pooled</text>
<line x1="368.5" y1="1200.5" x2="624.5" y2="1200.5" stroke="#efefef" stroke-width="1"/>
<line x1="368.5" y1="1175.05" x2="624.5" y2="1175.05" stroke="#efefef" stroke-width="1"/>
<line x1="368.5" y1="1149.6" x2="624.5" y2="1149.6" stroke="#efefef" stroke-width="1"/>
<line x1="368.5" y1="1124.15" x2="624.5" y2="1124.15" stroke="#efefef" stroke-width="1"/>
<line x1="368.5" y1="1098.7" x2="624.5" y2="1098.7" stroke="#efefef" stroke-width="1"/>
<line x1="368.5" y1="1073.25" x2="624.5" y2="1073.25" stroke="#efefef" stroke-width="1"/>
<line x1="368.5" y1="1047.8" x2="624.5" y2="1047.8" stroke="#efefef" stroke-width="1"/>
<line x1="379.9" y1="1167.16" x2="379.9" y2="1163.09" stroke="#ff2a14" stroke-width="0.9"/>
<line x1="418.05" y1="1144.51" x2="418.05" y2="1138.4" stroke="#ff2a14" stroke-width="0.9"/>
<line x1="456.2" y1="1128.22" x2="456.2" y2="1120.08" stroke="#ff2a14" stroke-width="0.9"/>
<line x1="494.35" y1="1110.41" x2="494.35" y2="1102.26" stroke="#ff2a14" stroke-width="0.9"/>
<line x1="532.5" y1="1098.7" x2="532.5" y2="1086.48" stroke="#ff2a14" stroke-width="0.9"/>
<line x1="608.8" y1="1091.83" x2="608.8" y2="1081.65" stroke="#ff2a14" stroke-width="0.9"/>
<line x1="380.83" y1="1177.09" x2="380.83" y2="1172" stroke="#1a35ff" stroke-width="0.9"/>
<line x1="418.98" y1="1144" x2="418.98" y2="1137.89" stroke="#1a35ff" stroke-width="0.9"/>
<line x1="457.13" y1="1119.82" x2="457.13" y2="1111.68" stroke="#1a35ff" stroke-width="0.9"/>
<line x1="495.28" y1="1107.35" x2="495.28" y2="1099.21" stroke="#1a35ff" stroke-width="0.9"/>
<line x1="533.43" y1="1099.46" x2="533.43" y2="1088.27" stroke="#1a35ff" stroke-width="0.9"/>
<line x1="609.73" y1="1096.92" x2="609.73" y2="1087.76" stroke="#1a35ff" stroke-width="0.9"/>
<line x1="381.77" y1="1163.09" x2="381.77" y2="1159.02" stroke="#118a11" stroke-width="0.9"/>
<line x1="419.92" y1="1128.99" x2="419.92" y2="1122.88" stroke="#118a11" stroke-width="0.9"/>
<line x1="458.07" y1="1100.99" x2="458.07" y2="1092.85" stroke="#118a11" stroke-width="0.9"/>
<line x1="496.22" y1="1086.99" x2="496.22" y2="1075.8" stroke="#118a11" stroke-width="0.9"/>
<line x1="534.37" y1="1082.92" x2="534.37" y2="1072.74" stroke="#118a11" stroke-width="0.9"/>
<line x1="610.67" y1="1085.47" x2="610.67" y2="1073.25" stroke="#118a11" stroke-width="0.9"/>
<line x1="382.7" y1="1166.65" x2="382.7" y2="1164.62" stroke="#000000" stroke-width="0.9"/>
<line x1="420.85" y1="1134.84" x2="420.85" y2="1132.29" stroke="#000000" stroke-width="0.9"/>
<line x1="459" y1="1110.15" x2="459" y2="1107.1" stroke="#000000" stroke-width="0.9"/>
<line x1="497.15" y1="1098.95" x2="497.15" y2="1095.39" stroke="#000000" stroke-width="0.9"/>
<line x1="535.3" y1="1089.03" x2="535.3" y2="1084.96" stroke="#000000" stroke-width="0.9"/>
<line x1="611.6" y1="1089.03" x2="611.6" y2="1084.96" stroke="#000000" stroke-width="0.9"/>
<polyline points="379.9,1165.12 418.05,1141.46 456.2,1124.15 494.35,1106.34 532.5,1092.59 608.8,1086.74" fill="none" stroke="#ff2a14" stroke-width="1.3" stroke-linejoin="round"/>
<polyline points="380.83,1174.54 418.98,1140.95 457.13,1115.75 495.28,1103.28 533.43,1093.86 609.73,1092.34" fill="none" stroke="#1a35ff" stroke-width="1.3" stroke-linejoin="round"/>
<polyline points="381.77,1161.05 419.92,1125.93 458.07,1096.92 496.22,1081.39 534.37,1077.83 610.67,1079.36" fill="none" stroke="#118a11" stroke-width="1.3" stroke-linejoin="round"/>
<polyline points="382.7,1165.63 420.85,1133.57 459,1108.63 497.15,1097.17 535.3,1086.99 611.6,1086.99" fill="none" stroke="#000000" stroke-width="1.3" stroke-linejoin="round"/>
<circle cx="379.9" cy="1165.12" r="1.75" fill="#ff2a14"/>
<circle cx="418.05" cy="1141.46" r="1.75" fill="#ff2a14"/>
<circle cx="456.2" cy="1124.15" r="1.75" fill="#ff2a14"/>
<circle cx="494.35" cy="1106.34" r="1.75" fill="#ff2a14"/>
<circle cx="532.5" cy="1092.59" r="1.75" fill="#ff2a14"/>
<circle cx="608.8" cy="1086.74" r="1.75" fill="#ff2a14"/>
<circle cx="380.83" cy="1174.54" r="1.75" fill="#1a35ff"/>
<circle cx="418.98" cy="1140.95" r="1.75" fill="#1a35ff"/>
<circle cx="457.13" cy="1115.75" r="1.75" fill="#1a35ff"/>
<circle cx="495.28" cy="1103.28" r="1.75" fill="#1a35ff"/>
<circle cx="533.43" cy="1093.86" r="1.75" fill="#1a35ff"/>
<circle cx="609.73" cy="1092.34" r="1.75" fill="#1a35ff"/>
<circle cx="381.77" cy="1161.05" r="1.75" fill="#118a11"/>
<circle cx="419.92" cy="1125.93" r="1.75" fill="#118a11"/>
<circle cx="458.07" cy="1096.92" r="1.75" fill="#118a11"/>
<circle cx="496.22" cy="1081.39" r="1.75" fill="#118a11"/>
<circle cx="534.37" cy="1077.83" r="1.75" fill="#118a11"/>
<circle cx="610.67" cy="1079.36" r="1.75" fill="#118a11"/>
<circle cx="382.7" cy="1165.63" r="1.75" fill="#000000"/>
<circle cx="420.85" cy="1133.57" r="1.75" fill="#000000"/>
<circle cx="459" cy="1108.63" r="1.75" fill="#000000"/>
<circle cx="497.15" cy="1097.17" r="1.75" fill="#000000"/>
<circle cx="535.3" cy="1086.99" r="1.75" fill="#000000"/>
<circle cx="611.6" cy="1086.99" r="1.75" fill="#000000"/>
<rect x="368.5" y="1040.5" width="256" height="167" fill="none" stroke="#c6c6c6" stroke-width="1.5"/>
<line x1="366.3" y1="1200.5" x2="368.5" y2="1200.5" stroke="#333" stroke-width="0.8"/>
<text transform="translate(364.5,1203.3) scale(0.86,1)" font-size="6.6" text-anchor="end" fill="#4d4d4d" font-family='"Liberation Sans", sans-serif' stroke="#4d4d4d" stroke-width="0.18">0</text>
<line x1="366.3" y1="1175.05" x2="368.5" y2="1175.05" stroke="#333" stroke-width="0.8"/>
<text transform="translate(364.5,1177.85) scale(0.86,1)" font-size="6.6" text-anchor="end" fill="#4d4d4d" font-family='"Liberation Sans", sans-serif' stroke="#4d4d4d" stroke-width="0.18">1</text>
<line x1="366.3" y1="1149.6" x2="368.5" y2="1149.6" stroke="#333" stroke-width="0.8"/>
<text transform="translate(364.5,1152.4) scale(0.86,1)" font-size="6.6" text-anchor="end" fill="#4d4d4d" font-family='"Liberation Sans", sans-serif' stroke="#4d4d4d" stroke-width="0.18">2</text>
<line x1="366.3" y1="1124.15" x2="368.5" y2="1124.15" stroke="#333" stroke-width="0.8"/>
<text transform="translate(364.5,1126.95) scale(0.86,1)" font-size="6.6" text-anchor="end" fill="#4d4d4d" font-family='"Liberation Sans", sans-serif' stroke="#4d4d4d" stroke-width="0.18">3</text>
<line x1="366.3" y1="1098.7" x2="368.5" y2="1098.7" stroke="#333" stroke-width="0.8"/>
<text transform="translate(364.5,1101.5) scale(0.86,1)" font-size="6.6" text-anchor="end" fill="#4d4d4d" font-family='"Liberation Sans", sans-serif' stroke="#4d4d4d" stroke-width="0.18">4</text>
<line x1="366.3" y1="1073.25" x2="368.5" y2="1073.25" stroke="#333" stroke-width="0.8"/>
<text transform="translate(364.5,1076.05) scale(0.86,1)" font-size="6.6" text-anchor="end" fill="#4d4d4d" font-family='"Liberation Sans", sans-serif' stroke="#4d4d4d" stroke-width="0.18">5</text>
<line x1="366.3" y1="1047.8" x2="368.5" y2="1047.8" stroke="#333" stroke-width="0.8"/>
<text transform="translate(364.5,1050.6) scale(0.86,1)" font-size="6.6" text-anchor="end" fill="#4d4d4d" font-family='"Liberation Sans", sans-serif' stroke="#4d4d4d" stroke-width="0.18">6</text>
<line x1="381.3" y1="1207.5" x2="381.3" y2="1209.7" stroke="#333" stroke-width="0.8"/>
<text transform="translate(381.3,1215.8) scale(0.86,1)" font-size="6.6" text-anchor="middle" fill="#4d4d4d" font-family='"Liberation Sans", sans-serif' stroke="#4d4d4d" stroke-width="0.18">0</text>
<line x1="419.45" y1="1207.5" x2="419.45" y2="1209.7" stroke="#333" stroke-width="0.8"/>
<text transform="translate(419.45,1215.8) scale(0.86,1)" font-size="6.6" text-anchor="middle" fill="#4d4d4d" font-family='"Liberation Sans", sans-serif' stroke="#4d4d4d" stroke-width="0.18">1</text>
<line x1="457.6" y1="1207.5" x2="457.6" y2="1209.7" stroke="#333" stroke-width="0.8"/>
<text transform="translate(457.6,1215.8) scale(0.86,1)" font-size="6.6" text-anchor="middle" fill="#4d4d4d" font-family='"Liberation Sans", sans-serif' stroke="#4d4d4d" stroke-width="0.18">2</text>
<line x1="495.75" y1="1207.5" x2="495.75" y2="1209.7" stroke="#333" stroke-width="0.8"/>
<text transform="translate(495.75,1215.8) scale(0.86,1)" font-size="6.6" text-anchor="middle" fill="#4d4d4d" font-family='"Liberation Sans", sans-serif' stroke="#4d4d4d" stroke-width="0.18">3</text>
<line x1="533.9" y1="1207.5" x2="533.9" y2="1209.7" stroke="#333" stroke-width="0.8"/>
<text transform="translate(533.9,1215.8) scale(0.86,1)" font-size="6.6" text-anchor="middle" fill="#4d4d4d" font-family='"Liberation Sans", sans-serif' stroke="#4d4d4d" stroke-width="0.18">4</text>
<line x1="572.05" y1="1207.5" x2="572.05" y2="1209.7" stroke="#333" stroke-width="0.8"/>
<text transform="translate(572.05,1215.8) scale(0.86,1)" font-size="6.6" text-anchor="middle" fill="#4d4d4d" font-family='"Liberation Sans", sans-serif' stroke="#4d4d4d" stroke-width="0.18">5</text>
<line x1="610.2" y1="1207.5" x2="610.2" y2="1209.7" stroke="#333" stroke-width="0.8"/>
<text transform="translate(610.2,1215.8) scale(0.86,1)" font-size="6.6" text-anchor="middle" fill="#4d4d4d" font-family='"Liberation Sans", sans-serif' stroke="#4d4d4d" stroke-width="0.18">6</text>
<text transform="translate(496.5,1224.6)" font-size="7.7" text-anchor="middle" fill="#1a1a1a" font-family='"Liberation Sans", sans-serif' stroke="#1a1a1a" stroke-width="0.18">Age (months)</text>
<text transform="translate(357.4,1124) rotate(-90)" font-size="7.7" text-anchor="middle" fill="#1a1a1a" font-family='"Liberation Sans", sans-serif' stroke="#1a1a1a" stroke-width="0.18">FMI (kg/m^2)</text>
<rect x="631.8" y="1090.5" width="43" height="67" fill="#fff" stroke="#333" stroke-width="0.9"/>
<text transform="translate(635.8,1101.2)" font-size="7.6" text-anchor="start" fill="#1a1a1a" font-family='"Liberation Sans", sans-serif' stroke="#1a1a1a" stroke-width="0.18">Country</text>
<line x1="636.7" y1="1111.4" x2="646.9" y2="1111.4" stroke="#ff2a14" stroke-width="1.1"/>
<circle cx="641.8" cy="1111.4" r="1.55" fill="#ff2a14"/>
<text transform="translate(651.8,1113.55)" font-size="6.1" text-anchor="start" fill="#1a1a1a" font-family='"Liberation Sans", sans-serif' stroke="#1a1a1a" stroke-width="0.18">AUS</text>
<line x1="636.7" y1="1123.45" x2="646.9" y2="1123.45" stroke="#1a35ff" stroke-width="1.1"/>
<circle cx="641.8" cy="1123.45" r="1.55" fill="#1a35ff"/>
<text transform="translate(651.8,1125.6)" font-size="6.1" text-anchor="start" fill="#1a1a1a" font-family='"Liberation Sans", sans-serif' stroke="#1a1a1a" stroke-width="0.18">IND</text>
<line x1="636.7" y1="1135.5" x2="646.9" y2="1135.5" stroke="#118a11" stroke-width="1.1"/>
<circle cx="641.8" cy="1135.5" r="1.55" fill="#118a11"/>
<text transform="translate(651.8,1137.65)" font-size="6.1" text-anchor="start" fill="#1a1a1a" font-family='"Liberation Sans", sans-serif' stroke="#1a1a1a" stroke-width="0.18">SAF</text>
<line x1="636.7" y1="1147.55" x2="646.9" y2="1147.55" stroke="#000000" stroke-width="1.1"/>
<circle cx="641.8" cy="1147.55" r="1.55" fill="#000000"/>
<text transform="translate(651.8,1149.7)" font-size="6.1" text-anchor="start" fill="#1a1a1a" font-family='"Liberation Sans", sans-serif' stroke="#1a1a1a" stroke-width="0.18">Pooled</text>
<line x1="1" y1="25.5" x2="684" y2="25.5" stroke="#5e5e5e" stroke-width="1.5"/>
<line x1="1" y1="259.5" x2="684" y2="259.5" stroke="#5e5e5e" stroke-width="1.5"/>
<line x1="1" y1="286.5" x2="684" y2="286.5" stroke="#5e5e5e" stroke-width="1.5"/>
<line x1="1" y1="517.5" x2="684" y2="517.5" stroke="#5e5e5e" stroke-width="1.5"/>
<line x1="1" y1="751.5" x2="684" y2="751.5" stroke="#5e5e5e" stroke-width="1.5"/>
<line x1="1" y1="778.5" x2="684" y2="778.5" stroke="#5e5e5e" stroke-width="1.5"/>
<line x1="1" y1="1009.5" x2="684" y2="1009.5" stroke="#5e5e5e" stroke-width="1.5"/>
<line x1="1" y1="1243.5" x2="684" y2="1243.5" stroke="#5e5e5e" stroke-width="1.5"/>
<line x1="1.5" y1="25" x2="1.5" y2="1244" stroke="#5e5e5e" stroke-width="1.5"/>
<line x1="342.5" y1="25" x2="342.5" y2="1244" stroke="#5e5e5e" stroke-width="1.5"/>
<line x1="683.5" y1="25" x2="683.5" y2="1244" stroke="#5e5e5e" stroke-width="1.5"/>
<text transform="translate(171.8,9.6)" font-size="11.7" text-anchor="middle" fill="#111" font-family='"Liberation Serif", serif' stroke="#111" stroke-width="0.18">Males</text>
<text transform="translate(512.8,9.6)" font-size="11.7" text-anchor="middle" fill="#111" font-family='"Liberation Serif", serif' stroke="#111" stroke-width="0.18">Females</text>
<text transform="translate(171.8,36.6)" font-size="11.4" text-anchor="middle" fill="#111" font-family='"Liberation Serif", serif' stroke="#111" stroke-width="0.18">A</text>
<text transform="translate(512.8,36.6)" font-size="11.4" text-anchor="middle" fill="#111" font-family='"Liberation Serif", serif' stroke="#111" stroke-width="0.18">B</text>
<text transform="translate(171.8,270.6)" font-size="11.4" text-anchor="middle" fill="#111" font-family='"Liberation Serif", serif' stroke="#111" stroke-width="0.18">C</text>
<text transform="translate(512.8,270.6)" font-size="11.4" text-anchor="middle" fill="#111" font-family='"Liberation Serif", serif' stroke="#111" stroke-width="0.18">D</text>
<text transform="translate(171.8,528.8)" font-size="11.4" text-anchor="middle" fill="#111" font-family='"Liberation Serif", serif' stroke="#111" stroke-width="0.18">E</text>
<text transform="translate(512.8,528.8)" font-size="11.4" text-anchor="middle" fill="#111" font-family='"Liberation Serif", serif' stroke="#111" stroke-width="0.18">F</text>
<text transform="translate(171.8,762.7)" font-size="11.4" text-anchor="middle" fill="#111" font-family='"Liberation Serif", serif' stroke="#111" stroke-width="0.18">G</text>
<text transform="translate(512.8,762.7)" font-size="11.4" text-anchor="middle" fill="#111" font-family='"Liberation Serif", serif' stroke="#111" stroke-width="0.18">H</text>
<text transform="translate(171.8,1020.8)" font-size="11.4" text-anchor="middle" fill="#111" font-family='"Liberation Serif", serif' stroke="#111" stroke-width="0.18">I</text>
<text transform="translate(512.8,1020.8)" font-size="11.4" text-anchor="middle" fill="#111" font-family='"Liberation Serif", serif' stroke="#111" stroke-width="0.18">J</text>
</g>
</svg>
</body></html>
